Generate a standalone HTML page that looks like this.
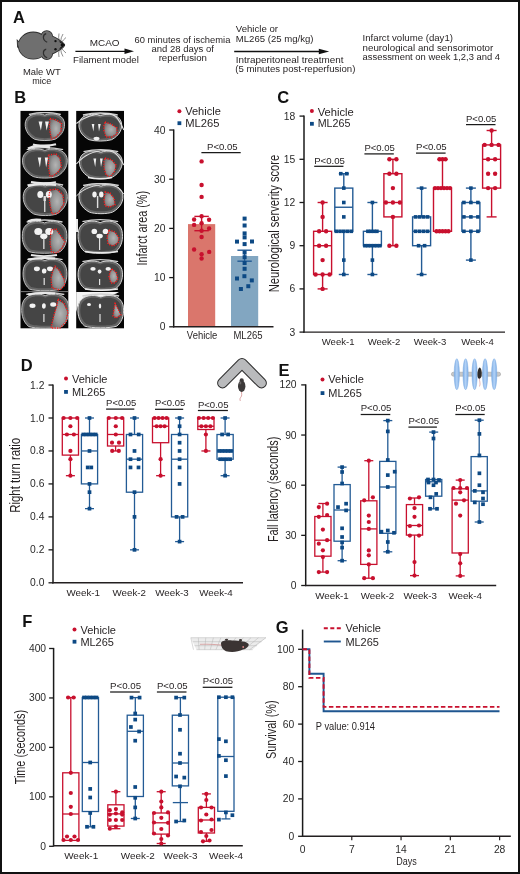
<!DOCTYPE html><html><head><meta charset="utf-8"><style>html,body{margin:0;padding:0;background:#fff;overflow:hidden;}svg{display:block;will-change:transform;font-family:"Liberation Sans",sans-serif;}</style></head><body>
<svg width="520" height="874" viewBox="0 0 520 874">
<rect x="0" y="0" width="520" height="874" fill="#fff"/>
<text x="13" y="22.5" font-size="16.5" text-anchor="start" fill="#111" font-weight="bold">A</text>
<g fill="#2b2b2b" stroke="#2b2b2b" stroke-width="1.6"><path d="M19.5,43 L17.6,41 L17.9,47.5 Z"/><ellipse cx="33.2" cy="45.6" rx="14.6" ry="13.2"/><path d="M44,37 C48,34.5 53,36 58,39.5 C61,41.5 64.3,43.5 64.3,45 C64.3,46.5 61,48.8 58,50.6 C53,54 48,55.6 44,53.5 Z"/><circle cx="46.8" cy="36.4" r="5.4"/><circle cx="46.8" cy="53.8" r="5.4"/></g>
<g fill="#6f6f6f"><path d="M19.5,43 L17.6,41 L17.9,47.5 Z"/><ellipse cx="33.2" cy="45.6" rx="14.6" ry="13.2"/><path d="M44,37 C48,34.5 53,36 58,39.5 C61,41.5 64.3,43.5 64.3,45 C64.3,46.5 61,48.8 58,50.6 C53,54 48,55.6 44,53.5 Z"/><circle cx="46.8" cy="36.4" r="5.4"/><circle cx="46.8" cy="53.8" r="5.4"/></g>
<path d="M46.2,33.6 C42.4,34.6 42.2,40.2 47.2,42.2" stroke="#2e2e2e" stroke-width="1.2" fill="none"/>
<path d="M46.2,49.2 C42.4,50.2 42.2,55.8 47.2,57.8" stroke="#2e2e2e" stroke-width="1.2" fill="none"/>
<circle cx="55.5" cy="41.1" r="1.2" fill="#111"/><circle cx="55.5" cy="49.2" r="1.2" fill="#111"/>
<path d="M59.8,41.6 L64.3,45 L59.8,48.6" stroke="#111" stroke-width="1.1" fill="none"/>
<circle cx="61.9" cy="45.1" r="1.3" fill="#111"/>
<g stroke="#333" stroke-width="0.55" fill="none"><path d="M59.5,42 Q58,37 59,33.5"/><path d="M60.5,42.3 Q61,37 63,34"/><path d="M61,43 Q63.5,39.5 66,37.5"/><path d="M59.5,48.6 Q58,53.5 59,57"/><path d="M60.5,48.3 Q61,53.5 63,56.5"/><path d="M61,47.6 Q63.5,51 66,53"/></g>
<text x="41.8" y="75" font-size="9.4" text-anchor="middle" fill="#231f20" textLength="37.7" lengthAdjust="spacingAndGlyphs">Male WT</text>
<text x="41.8" y="84" font-size="9.4" text-anchor="middle" fill="#231f20" textLength="19" lengthAdjust="spacingAndGlyphs">mice</text>
<line x1="75.4" y1="51.3" x2="128" y2="51.3" stroke="#111" stroke-width="1.3"/>
<path d="M124.5,48.6 L134,51.3 L124.5,54 Z" fill="#111"/>
<text x="89.8" y="46" font-size="9.6" text-anchor="start" fill="#231f20" textLength="29.8" lengthAdjust="spacingAndGlyphs">MCAO</text>
<text x="73" y="63.3" font-size="9.6" text-anchor="start" fill="#231f20" textLength="65.8" lengthAdjust="spacingAndGlyphs">Filament model</text>
<text x="182.5" y="42.7" font-size="9.6" text-anchor="middle" fill="#231f20" textLength="95.8" lengthAdjust="spacingAndGlyphs">60 minutes of ischemia</text>
<text x="182.7" y="52.3" font-size="9.6" text-anchor="middle" fill="#231f20" textLength="62.5" lengthAdjust="spacingAndGlyphs">and 28 days of</text>
<text x="182.8" y="61.3" font-size="9.6" text-anchor="middle" fill="#231f20" textLength="48.3" lengthAdjust="spacingAndGlyphs">reperfusion</text>
<text x="235.8" y="31.9" font-size="9.6" text-anchor="start" fill="#231f20" textLength="42.2" lengthAdjust="spacingAndGlyphs">Vehicle or</text>
<text x="235.8" y="42.3" font-size="9.6" text-anchor="start" fill="#231f20" textLength="77.7" lengthAdjust="spacingAndGlyphs">ML265 (25 mg/kg)</text>
<line x1="234.2" y1="51.5" x2="322" y2="51.5" stroke="#111" stroke-width="1.3"/>
<path d="M318.8,48.7 L329.2,51.5 L318.8,54.3 Z" fill="#111"/>
<text x="235.8" y="62.6" font-size="9.6" text-anchor="start" fill="#231f20" textLength="107.7" lengthAdjust="spacingAndGlyphs">Intraperitoneal treatment</text>
<text x="235.3" y="72.3" font-size="9.6" text-anchor="start" fill="#231f20" textLength="120.1" lengthAdjust="spacingAndGlyphs">(5 minutes post-reperfusion)</text>
<text x="362.6" y="40.8" font-size="9.6" text-anchor="start" fill="#231f20" textLength="90.4" lengthAdjust="spacingAndGlyphs">Infarct volume (day1)</text>
<text x="362.6" y="50.5" font-size="9.6" text-anchor="start" fill="#231f20" textLength="130.7" lengthAdjust="spacingAndGlyphs">neurological and sensorimotor</text>
<text x="362.6" y="59.8" font-size="9.6" text-anchor="start" fill="#231f20" textLength="137.4" lengthAdjust="spacingAndGlyphs">assessment on week 1,2,3 and 4</text>
<text x="14.3" y="103.1" font-size="16.5" text-anchor="start" fill="#111" font-weight="bold">B</text>
<defs><filter id="bl" x="-20%" y="-20%" width="140%" height="140%"><feGaussianBlur stdDeviation="0.7"/></filter><filter id="bl2" x="-30%" y="-30%" width="160%" height="160%"><feGaussianBlur stdDeviation="1.6"/></filter><radialGradient id="brg" cx="0.5" cy="0.5" r="0.55"><stop offset="0" stop-color="#4a4a4a"/><stop offset="0.75" stop-color="#555"/><stop offset="1" stop-color="#7a7a7a"/></radialGradient><radialGradient id="ig" cx="0.55" cy="0.5" r="0.6"><stop offset="0" stop-color="#b4b4b4"/><stop offset="0.6" stop-color="#959595"/><stop offset="1" stop-color="#707070"/></radialGradient><linearGradient id="dg" x1="0" x2="1" y1="0" y2="0"><stop offset="0" stop-color="#7eaee6"/><stop offset="0.5" stop-color="#b3d2f6"/><stop offset="1" stop-color="#7eaee6"/></linearGradient></defs>
<rect x="20.5" y="110.9" width="47.8" height="217.4" fill="#060606"/>
<rect x="76.2" y="110.9" width="47.8" height="217.4" fill="#060606"/>
<path d="M76.2,291.9 H119 C112,296 105,297.5 99,297.5 C90,297.5 82,299 78.5,304 L76.2,312 Z" fill="#f4f4f4"/>
<line x1="20.5" y1="291.6" x2="68.3" y2="291.6" stroke="#9a9a9a" stroke-width="0.8"/>
<path d="M28.9,114.5 Q44.8,110.5 60.8,114.5" stroke="#cfcfcf" stroke-width="1.3" fill="none" filter="url(#bl)"/>
<path d="M44.8,115.1 C50.8,112.7 62.0,113.2 64.2,121.6 C65.6,128.3 62.4,135.1 55.2,139.2 C50.0,141.0 39.7,141.0 34.5,139.2 C27.3,135.1 24.1,128.3 25.5,121.6 C27.7,113.2 38.9,112.7 44.8,115.1 Z" fill="#646464" stroke="#bdbdbd" stroke-width="1.0"/>
<path d="M44.8,117.2 C50.1,115.2 59.9,115.7 61.9,122.6 C63.1,128.1 60.3,133.7 54.0,137.0 C49.4,138.5 40.3,138.5 35.7,137.0 C29.4,133.7 26.6,128.1 27.8,122.6 C29.8,115.7 39.6,115.2 44.8,117.2 Z" fill="#444444" filter="url(#bl)"/>
<polygon points="50,118.5 56,120 61.5,123 61,132 56,137 51.5,139 50,132 49.5,125" fill="url(#ig)" filter="url(#bl)" transform="translate(3.27,7.70) scale(0.94)"/>
<path d="M38.6,121.5 L42.4,121.5 L40.9,130.5 Z M45.1,121.5 L48.9,121.5 L46.6,130.5 Z" fill="#f2f2f2" filter="url(#bl)"/>
<polygon points="50,118.5 56,120 61.5,123 61,132 56,137 51.5,139 50,132 49.5,125" fill="none" stroke="#ff1c1c" stroke-width="1.35" stroke-dasharray="1.2 1.3" stroke-linejoin="round"/>
<path d="M26.7,149.6 Q44.9,145.6 63.1,149.6" stroke="#cfcfcf" stroke-width="1.3" fill="none" filter="url(#bl)"/>
<path d="M44.9,150.4 C51.7,147.7 64.4,148.3 66.9,157.4 C68.5,164.8 64.9,172.1 56.7,176.5 C50.8,178.6 39.0,178.6 33.1,176.5 C24.9,172.1 21.3,164.8 22.9,157.4 C25.4,148.3 38.1,147.7 44.9,150.4 Z" fill="#646464" stroke="#bdbdbd" stroke-width="1.0"/>
<path d="M44.9,152.5 C51.0,150.3 62.4,150.8 64.6,158.4 C66.0,164.5 62.8,170.7 55.5,174.4 C50.2,176.1 39.6,176.1 34.3,174.4 C27.0,170.7 23.8,164.5 25.2,158.4 C27.4,150.8 38.8,150.3 44.9,152.5 Z" fill="#444444" filter="url(#bl)"/>
<polygon points="48.5,155 56,154 60,158 61.5,167 58,172 53,176 50,176 48.5,168" fill="url(#ig)" filter="url(#bl)" transform="translate(3.27,9.95) scale(0.94)"/>
<path d="M37.8,157.5 L41.2,157.5 L39.9,167.5 Z M44.8,157.5 L48.2,157.5 L46.1,167.5 Z" fill="#f2f2f2" filter="url(#bl)"/>
<polygon points="48.5,155 56,154 60,158 61.5,167 58,172 53,176 50,176 48.5,168" fill="none" stroke="#ff1c1c" stroke-width="1.35" stroke-dasharray="1.2 1.3" stroke-linejoin="round"/>
<path d="M27.4,185.0 Q45.2,181.0 63.1,185.0" stroke="#cfcfcf" stroke-width="1.3" fill="none" filter="url(#bl)"/>
<path d="M45.2,185.9 C52.0,183.1 64.5,183.7 66.9,193.4 C68.5,201.3 64.9,209.2 56.9,213.9 C51.1,216.1 39.4,216.1 33.6,213.9 C25.6,209.2 22.0,201.3 23.6,193.4 C26.0,183.7 38.5,183.1 45.2,185.9 Z" fill="#646464" stroke="#bdbdbd" stroke-width="1.0"/>
<path d="M45.2,188.0 C51.2,185.6 62.4,186.1 64.6,194.4 C66.0,201.1 62.8,207.8 55.6,211.8 C50.4,213.6 40.1,213.6 34.9,211.8 C27.7,207.8 24.5,201.1 25.9,194.4 C28.1,186.1 39.3,185.6 45.2,188.0 Z" fill="#444444" filter="url(#bl)"/>
<polygon points="50,190 57,189 63,195 64,204 58,213 52,214 50,205 49,196" fill="url(#ig)" filter="url(#bl)" transform="translate(3.32,12.04) scale(0.94)"/>
<ellipse cx="40.3" cy="194.5" rx="3.0" ry="3.6" fill="#f2f2f2" filter="url(#bl)"/><ellipse cx="48.8" cy="194.5" rx="3.0" ry="3.6" fill="#f2f2f2" filter="url(#bl)"/><rect x="43.5" y="196" width="2.4" height="5" fill="#e0e0e0" filter="url(#bl)"/><rect x="44.1" y="200" width="1.3" height="12" fill="#e0e0e0" filter="url(#bl)"/>
<polygon points="50,190 57,189 63,195 64,204 58,213 52,214 50,205 49,196" fill="none" stroke="#ff1c1c" stroke-width="1.35" stroke-dasharray="1.2 1.3" stroke-linejoin="round"/>
<path d="M26.7,222.0 Q44.6,218.0 62.5,222.0" stroke="#cfcfcf" stroke-width="1.3" fill="none" filter="url(#bl)"/>
<path d="M44.6,222.9 C51.3,220.0 63.9,220.7 66.3,230.7 C67.9,238.7 66.3,246.8 60.3,251.6 C54.5,253.8 34.7,253.8 28.9,251.6 C22.9,246.8 21.3,238.7 22.9,230.7 C25.3,220.7 37.9,220.0 44.6,222.9 Z" fill="#646464" stroke="#bdbdbd" stroke-width="1.0"/>
<path d="M44.6,225.0 C50.6,222.6 61.8,223.1 64.0,231.6 C65.4,238.5 64.0,245.3 58.6,249.4 C53.4,251.3 35.8,251.3 30.6,249.4 C25.2,245.3 23.8,238.5 25.2,231.6 C27.4,223.1 38.6,222.6 44.6,225.0 Z" fill="#444444" filter="url(#bl)"/>
<polygon points="51,230 56,229 61,236 65,242 62,248 57,253 51.5,252 50,243" fill="url(#ig)" filter="url(#bl)" transform="translate(3.40,14.50) scale(0.94)"/>
<ellipse cx="38.3" cy="231.5" rx="4.0" ry="3.6" fill="#f2f2f2" filter="url(#bl)"/><ellipse cx="49.2" cy="231.5" rx="4.0" ry="3.6" fill="#f2f2f2" filter="url(#bl)"/><ellipse cx="43.8" cy="236.2" rx="3.6" ry="2.8" fill="#f2f2f2" filter="url(#bl)"/><rect x="43.2" y="238" width="1.3" height="11" fill="#e0e0e0" filter="url(#bl)"/>
<polygon points="51,230 56,229 61,236 65,242 62,248 57,253 51.5,252 50,243" fill="none" stroke="#ff1c1c" stroke-width="1.35" stroke-dasharray="1.2 1.3" stroke-linejoin="round"/>
<path d="M27.3,259.6 Q45.0,255.6 62.6,259.6" stroke="#cfcfcf" stroke-width="1.3" fill="none" filter="url(#bl)"/>
<path d="M45.0,260.5 C51.6,257.6 63.9,258.3 66.3,268.2 C67.9,276.3 66.3,284.3 60.4,289.1 C54.7,291.3 35.2,291.3 29.5,289.1 C23.6,284.3 22.0,276.3 23.6,268.2 C26.0,258.3 38.3,257.6 45.0,260.5 Z" fill="#646464" stroke="#bdbdbd" stroke-width="1.0"/>
<path d="M44.9,262.6 C50.8,260.2 61.8,260.7 64.0,269.2 C65.4,276.0 64.0,282.8 58.7,286.9 C53.6,288.8 36.3,288.8 31.2,286.9 C25.9,282.8 24.5,276.0 25.9,269.2 C28.1,260.7 39.1,260.2 44.9,262.6 Z" fill="#444444" filter="url(#bl)"/>
<polygon points="55,266 59,270 64,279 65,285 60,290 52,288 51,278 53,270" fill="url(#ig)" filter="url(#bl)" transform="translate(3.44,16.70) scale(0.94)"/>
<ellipse cx="36.9" cy="268.8" rx="3.0" ry="2.4" fill="#f2f2f2" filter="url(#bl)"/><ellipse cx="50.0" cy="268.8" rx="3.0" ry="2.4" fill="#f2f2f2" filter="url(#bl)"/><ellipse cx="44.2" cy="271.0" rx="2.3" ry="2.6" fill="#f2f2f2" filter="url(#bl)"/><rect x="43.6" y="278" width="1.2" height="7" fill="#e0e0e0" filter="url(#bl)"/>
<polygon points="55,266 59,270 64,279 65,285 60,290 52,288 51,278 53,270" fill="none" stroke="#ff1c1c" stroke-width="1.35" stroke-dasharray="1.2 1.3" stroke-linejoin="round"/>
<path d="M26.3,294.5 Q45.3,290.5 64.3,294.5" stroke="#cfcfcf" stroke-width="1.3" fill="none" filter="url(#bl)"/>
<path d="M45.3,295.6 C52.4,292.5 65.7,293.2 68.3,303.9 C69.9,312.6 68.3,321.3 61.9,326.5 C55.7,328.9 34.9,328.9 28.7,326.5 C22.3,321.3 20.7,312.6 22.3,303.9 C24.9,293.2 38.2,292.5 45.3,295.6 Z" fill="#646464" stroke="#bdbdbd" stroke-width="1.0"/>
<path d="M45.3,297.7 C51.7,295.0 63.6,295.6 66.0,304.9 C67.5,312.3 66.0,319.8 60.2,324.3 C54.7,326.4 35.9,326.4 30.4,324.3 C24.6,319.8 23.1,312.3 24.6,304.9 C27.0,295.6 38.9,295.0 45.3,297.7 Z" fill="#444444" filter="url(#bl)"/>
<polygon points="58,299 64,303 68,312 66,322 60,328 51,328 54,315 57,305" fill="url(#ig)" filter="url(#bl)" transform="translate(3.58,18.84) scale(0.94)"/>
<ellipse cx="32.5" cy="305.8" rx="3.0" ry="2.2" fill="#f2f2f2" filter="url(#bl)"/><ellipse cx="53.2" cy="304.5" rx="3.0" ry="2.2" fill="#f2f2f2" filter="url(#bl)"/><ellipse cx="43.9" cy="306.0" rx="1.9" ry="2.8" fill="#f2f2f2" filter="url(#bl)"/><rect x="43.3" y="314" width="1.2" height="8" fill="#e0e0e0" filter="url(#bl)"/>
<polygon points="58,299 64,303 68,312 66,322 60,328 51,328 54,315 57,305" fill="none" stroke="#ff1c1c" stroke-width="1.35" stroke-dasharray="1.2 1.3" stroke-linejoin="round"/>
<path d="M82.9,115.0 Q100.3,111.0 117.7,115.0" stroke="#cfcfcf" stroke-width="1.3" fill="none" filter="url(#bl)"/>
<path d="M100.3,115.6 C106.8,113.2 119.0,113.7 121.3,122.1 C122.9,128.8 119.4,135.6 111.6,139.7 C105.9,141.5 94.7,141.5 89.0,139.7 C81.2,135.6 77.7,128.8 79.3,122.1 C81.6,113.7 93.8,113.2 100.3,115.6 Z" fill="#646464" stroke="#d8d8d8" stroke-width="1.0"/>
<path d="M100.3,117.7 C106.1,115.7 116.9,116.2 119.0,123.1 C120.4,128.6 117.3,134.2 110.3,137.5 C105.3,139.0 95.3,139.0 90.3,137.5 C83.3,134.2 80.2,128.6 81.6,123.1 C83.7,116.2 94.5,115.7 100.3,117.7 Z" fill="#444444" filter="url(#bl)"/>
<polygon points="105,122 111,124 117,128 117,134 112,137 106,137 104,131 104,125" fill="url(#ig)" filter="url(#bl)" transform="translate(6.57,7.79) scale(0.94)"/>
<path d="M91.7,124.0 L94.3,124.0 L93.4,131.5 Z M98.1,124.0 L100.7,124.0 L99.0,131.5 Z" fill="#f2f2f2" filter="url(#bl)"/><ellipse cx="96.5" cy="138.6" rx="3.0" ry="1.8" fill="#f2f2f2" filter="url(#bl)"/>
<polygon points="105,122 111,124 117,128 117,134 112,137 106,137 104,131 104,125" fill="none" stroke="#ff1c1c" stroke-width="1.35" stroke-dasharray="1.2 1.3" stroke-linejoin="round"/>
<path d="M83.5,151.6 Q100.8,147.6 118.2,151.6" stroke="#cfcfcf" stroke-width="1.3" fill="none" filter="url(#bl)"/>
<path d="M100.8,152.3 C107.3,149.8 119.5,150.3 121.9,159.0 C123.4,166.1 119.9,173.1 112.1,177.3 C106.5,179.3 95.2,179.3 89.6,177.3 C81.8,173.1 78.3,166.1 79.8,159.0 C82.2,150.3 94.4,149.8 100.8,152.3 Z" fill="#646464" stroke="#d8d8d8" stroke-width="1.0"/>
<path d="M100.8,154.4 C106.6,152.3 117.4,152.8 119.5,160.0 C120.9,165.8 117.8,171.6 110.9,175.1 C105.9,176.8 95.8,176.8 90.8,175.1 C83.9,171.6 80.8,165.8 82.2,160.0 C84.3,152.8 95.1,152.3 100.8,154.4 Z" fill="#444444" filter="url(#bl)"/>
<polygon points="105,158 112,160 116,165 115,171 110,177 106,175 104,168 104,161" fill="url(#ig)" filter="url(#bl)" transform="translate(6.54,10.01) scale(0.94)"/>
<path d="M93.4,158.5 L96.2,158.5 L95.2,167.0 Z M100.0,158.5 L102.8,158.5 L101.0,167.0 Z" fill="#f2f2f2" filter="url(#bl)"/>
<polygon points="105,158 112,160 116,165 115,171 110,177 106,175 104,168 104,161" fill="none" stroke="#ff1c1c" stroke-width="1.35" stroke-dasharray="1.2 1.3" stroke-linejoin="round"/>
<path d="M83.1,185.5 Q100.9,181.5 118.8,185.5" stroke="#cfcfcf" stroke-width="1.3" fill="none" filter="url(#bl)"/>
<path d="M100.9,186.2 C107.7,183.6 120.2,184.2 122.6,193.2 C124.2,200.5 120.6,207.8 112.6,212.1 C106.8,214.2 95.1,214.2 89.3,212.1 C81.3,207.8 77.7,200.5 79.3,193.2 C81.7,184.2 94.2,183.6 100.9,186.2 Z" fill="#646464" stroke="#d8d8d8" stroke-width="1.0"/>
<path d="M100.9,188.4 C106.9,186.2 118.1,186.7 120.3,194.2 C121.7,200.3 118.5,206.3 111.3,210.0 C106.1,211.7 95.8,211.7 90.6,210.0 C83.4,206.3 80.2,200.3 81.6,194.2 C83.8,186.7 95.0,186.2 100.9,188.4 Z" fill="#444444" filter="url(#bl)"/>
<polygon points="105,192 110,193 114,198 115,205 110,207 105,206 104,200" fill="url(#ig)" filter="url(#bl)" transform="translate(6.54,12.01) scale(0.94)"/>
<ellipse cx="94.5" cy="194.5" rx="2.2" ry="3.0" fill="#f2f2f2" filter="url(#bl)"/><ellipse cx="101.3" cy="194.5" rx="2.2" ry="3.0" fill="#f2f2f2" filter="url(#bl)"/><rect x="96.9" y="196" width="1.4" height="12" fill="#e0e0e0" filter="url(#bl)"/>
<polygon points="105,192 110,193 114,198 115,205 110,207 105,206 104,200" fill="none" stroke="#ff1c1c" stroke-width="1.35" stroke-dasharray="1.2 1.3" stroke-linejoin="round"/>
<path d="M82.4,221.6 Q100.2,217.6 118.1,221.6" stroke="#cfcfcf" stroke-width="1.3" fill="none" filter="url(#bl)"/>
<path d="M100.2,222.6 C107.0,219.6 119.5,220.3 121.9,230.4 C123.5,238.5 121.9,246.7 115.9,251.6 C110.1,253.9 90.4,253.9 84.6,251.6 C78.6,246.7 77.0,238.5 78.6,230.4 C81.0,220.3 93.5,219.6 100.2,222.6 Z" fill="#646464" stroke="#d8d8d8" stroke-width="1.0"/>
<path d="M100.2,224.7 C106.2,222.2 117.4,222.7 119.6,231.3 C121.0,238.3 119.6,245.2 114.2,249.4 C109.0,251.4 91.5,251.4 86.3,249.4 C80.9,245.2 79.5,238.3 80.9,231.3 C83.1,222.7 94.3,222.2 100.2,224.7 Z" fill="#444444" filter="url(#bl)"/>
<polygon points="109,230 115,232 119,238 118,243 113,246 108,244 107,237" fill="url(#ig)" filter="url(#bl)" transform="translate(6.76,14.31) scale(0.94)"/>
<ellipse cx="94.3" cy="231.4" rx="2.8" ry="2.7" fill="#f2f2f2" filter="url(#bl)"/><ellipse cx="105.5" cy="231.4" rx="2.8" ry="2.7" fill="#f2f2f2" filter="url(#bl)"/><ellipse cx="99.6" cy="236" rx="3.2" ry="2.3" fill="#f2f2f2" filter="url(#bl)"/><rect x="99" y="238" width="1.2" height="12" fill="#e0e0e0" filter="url(#bl)"/>
<polygon points="109,230 115,232 119,238 118,243 113,246 108,244 107,237" fill="none" stroke="#ff1c1c" stroke-width="1.35" stroke-dasharray="1.2 1.3" stroke-linejoin="round"/>
<path d="M82.4,261.6 Q100.2,257.6 118.1,261.6" stroke="#cfcfcf" stroke-width="1.3" fill="none" filter="url(#bl)"/>
<path d="M100.2,262.4 C107.0,259.7 119.5,260.3 121.9,269.4 C123.5,276.8 121.9,284.1 115.9,288.5 C110.1,290.6 90.4,290.6 84.6,288.5 C78.6,284.1 77.0,276.8 78.6,269.4 C81.0,260.3 93.5,259.7 100.2,262.4 Z" fill="#646464" stroke="#d8d8d8" stroke-width="1.0"/>
<path d="M100.2,264.5 C106.2,262.3 117.4,262.8 119.6,270.4 C121.0,276.5 119.6,282.7 114.2,286.4 C109.0,288.1 91.5,288.1 86.3,286.4 C80.9,282.7 79.5,276.5 80.9,270.4 C83.1,262.8 94.3,262.3 100.2,264.5 Z" fill="#444444" filter="url(#bl)"/>
<polygon points="112,269 116,272 118,279 115,283 111,283 109,277 110,272" fill="url(#ig)" filter="url(#bl)" transform="translate(6.78,16.59) scale(0.94)"/>
<ellipse cx="93" cy="268.9" rx="2.7" ry="1.8" fill="#f2f2f2" filter="url(#bl)"/><ellipse cx="108.2" cy="268.9" rx="2.7" ry="1.8" fill="#f2f2f2" filter="url(#bl)"/><ellipse cx="99.6" cy="271.6" rx="1.9" ry="2.1" fill="#f2f2f2" filter="url(#bl)"/><rect x="99" y="279" width="1.2" height="6" fill="#e0e0e0" filter="url(#bl)"/>
<polygon points="112,269 116,272 118,279 115,283 111,283 109,277 110,272" fill="none" stroke="#ff1c1c" stroke-width="1.35" stroke-dasharray="1.2 1.3" stroke-linejoin="round"/>
<path d="M82.4,296.0 Q100.8,292.0 119.1,296.0" stroke="#cfcfcf" stroke-width="1.3" fill="none" filter="url(#bl)"/>
<path d="M100.8,297.0 C107.6,294.0 120.5,294.7 123.0,304.8 C124.6,313.0 123.0,321.2 116.8,326.1 C110.8,328.4 90.7,328.4 84.7,326.1 C78.5,321.2 76.9,313.0 78.5,304.8 C81.0,294.7 93.9,294.0 100.8,297.0 Z" fill="#646464" stroke="#d8d8d8" stroke-width="1.0"/>
<path d="M100.8,299.1 C106.9,296.6 118.4,297.1 120.7,305.8 C122.1,312.7 120.7,319.7 115.1,323.9 C109.8,325.9 91.7,325.9 86.4,323.9 C80.8,319.7 79.4,312.7 80.8,305.8 C83.1,297.1 94.6,296.6 100.8,299.1 Z" fill="#444444" filter="url(#bl)"/>
<polygon points="115,303 118,309 121,315 116,318 113,316 114,310" fill="url(#ig)" filter="url(#bl)" transform="translate(6.97,18.71) scale(0.94)"/>
<ellipse cx="89" cy="304.5" rx="2" ry="1.6" fill="#f2f2f2" filter="url(#bl)"/><ellipse cx="100" cy="306" rx="1.2" ry="2.5" fill="#f2f2f2" filter="url(#bl)"/><rect x="99.4" y="314" width="1.2" height="8" fill="#e0e0e0" filter="url(#bl)"/>
<polygon points="115,303 118,309 121,315 116,318 113,316 114,310" fill="none" stroke="#ff1c1c" stroke-width="1.35" stroke-dasharray="1.2 1.3" stroke-linejoin="round"/>
<g filter="url(#bl)" fill="none" stroke="#e8e8e8">
<path d="M33,144.5 C38,146 50,146 56,144.3" stroke-width="2.2"/>
<path d="M28,148.5 C33,146 42,145.8 50,147.5" stroke-width="2.4"/>
<path d="M31,182 C38,183.5 50,183.5 56,182" stroke-width="1.8"/>
<path d="M28,186 C35,183.8 45,183.6 56,185" stroke-width="2.2"/>
<path d="M28,221.5 C31,219.8 36,219.3 41,220" stroke-width="2.4"/>
<path d="M31,255 C38,256.5 50,256.5 57,255" stroke-width="1.8"/>
<path d="M28,259.5 C35,257.8 45,257.5 55,258.5" stroke-width="2.0"/>
<path d="M28,294.5 C35,292.8 45,292.5 55,293.5" stroke-width="2.0"/>
<path d="M88,177.5 C95,179 105,179 112,177.5" stroke-width="1.6"/>
<path d="M85,251.5 C95,253 108,253 118,251.5" stroke-width="1.6"/>
<path d="M77,219 L77,232" stroke-width="2.0"/>
<path d="M85,289 C95,290.5 108,290.5 118,289" stroke-width="1.4"/>
</g>
<path d="M76.4,123.5 C84,117 95,113.5 107,113.5 C115,113.5 119,119 123.8,130" stroke="#e0e0e0" stroke-width="1.1" fill="none"/>
<path d="M76.4,164 C84,155 95,150.5 106,150.5 C115,150.5 119,156 123.8,165" stroke="#e0e0e0" stroke-width="1.1" fill="none"/>
<path d="M76.4,196 C84,188 95,184.5 106,184.5 C115,184.5 119,188 123.8,194" stroke="#d8d8d8" stroke-width="1.0" fill="none"/>
<rect x="188" y="224.1" width="27.2" height="102.7" fill="#da766c"/>
<rect x="231" y="256" width="27.2" height="70.8" fill="#82a6c1"/>
<line x1="173.7" y1="129.4" x2="173.7" y2="327.40000000000003" stroke="#1a1a1a" stroke-width="1.5"/>
<line x1="169.2" y1="130" x2="173.7" y2="130" stroke="#1a1a1a" stroke-width="1.3"/>
<text x="165.5" y="133.5" font-size="10.3" text-anchor="end" fill="#2a2a2a">40</text>
<line x1="169.2" y1="179.2" x2="173.7" y2="179.2" stroke="#1a1a1a" stroke-width="1.3"/>
<text x="165.5" y="182.7" font-size="10.3" text-anchor="end" fill="#2a2a2a">30</text>
<line x1="169.2" y1="228.4" x2="173.7" y2="228.4" stroke="#1a1a1a" stroke-width="1.3"/>
<text x="165.5" y="231.9" font-size="10.3" text-anchor="end" fill="#2a2a2a">20</text>
<line x1="169.2" y1="277.6" x2="173.7" y2="277.6" stroke="#1a1a1a" stroke-width="1.3"/>
<text x="165.5" y="281.1" font-size="10.3" text-anchor="end" fill="#2a2a2a">10</text>
<line x1="169.2" y1="326.8" x2="173.7" y2="326.8" stroke="#1a1a1a" stroke-width="1.3"/>
<text x="165.5" y="330.3" font-size="10.3" text-anchor="end" fill="#2a2a2a">0</text>
<line x1="173.0" y1="326.8" x2="273.5" y2="326.8" stroke="#231f20" stroke-width="1.4"/>
<line x1="201.6" y1="216.4" x2="201.6" y2="230.7" stroke="#c8102e" stroke-width="1.4"/>
<line x1="194.4" y1="216.4" x2="208.79999999999998" y2="216.4" stroke="#c8102e" stroke-width="1.4"/>
<line x1="194.4" y1="230.7" x2="208.79999999999998" y2="230.7" stroke="#c8102e" stroke-width="1.4"/>
<line x1="244.6" y1="250.2" x2="244.6" y2="261.2" stroke="#235b95" stroke-width="1.4"/>
<line x1="237.4" y1="250.2" x2="251.79999999999998" y2="250.2" stroke="#235b95" stroke-width="1.4"/>
<line x1="237.4" y1="261.2" x2="251.79999999999998" y2="261.2" stroke="#235b95" stroke-width="1.4"/>
<circle cx="201.60" cy="161.40" r="2.2" fill="#c8102e"/>
<circle cx="201.60" cy="185.00" r="2.2" fill="#c8102e"/>
<circle cx="201.60" cy="196.90" r="2.2" fill="#c8102e"/>
<circle cx="201.60" cy="216.20" r="2.2" fill="#c8102e"/>
<circle cx="194.10" cy="219.50" r="2.2" fill="#c8102e"/>
<circle cx="209.10" cy="219.80" r="2.2" fill="#c8102e"/>
<circle cx="194.10" cy="224.90" r="2.2" fill="#c8102e"/>
<circle cx="201.60" cy="223.20" r="2.2" fill="#c8102e"/>
<circle cx="209.10" cy="228.50" r="2.2" fill="#c8102e"/>
<circle cx="201.60" cy="230.70" r="2.2" fill="#c8102e"/>
<circle cx="201.60" cy="237.00" r="2.2" fill="#c8102e"/>
<circle cx="194.10" cy="249.50" r="2.2" fill="#c8102e"/>
<circle cx="209.20" cy="251.90" r="2.2" fill="#c8102e"/>
<circle cx="201.60" cy="254.20" r="2.2" fill="#c8102e"/>
<circle cx="201.60" cy="258.50" r="2.2" fill="#c8102e"/>
<rect x="242.60" y="216.60" width="4.0" height="4.0" fill="#0d4984"/>
<rect x="242.60" y="223.50" width="4.0" height="4.0" fill="#0d4984"/>
<rect x="242.60" y="231.40" width="4.0" height="4.0" fill="#0d4984"/>
<rect x="242.60" y="235.40" width="4.0" height="4.0" fill="#0d4984"/>
<rect x="235.00" y="239.60" width="4.0" height="4.0" fill="#0d4984"/>
<rect x="250.00" y="239.50" width="4.0" height="4.0" fill="#0d4984"/>
<rect x="242.60" y="242.10" width="4.0" height="4.0" fill="#0d4984"/>
<rect x="242.60" y="250.50" width="4.0" height="4.0" fill="#0d4984"/>
<rect x="242.60" y="255.20" width="4.0" height="4.0" fill="#0d4984"/>
<rect x="242.60" y="261.00" width="4.0" height="4.0" fill="#0d4984"/>
<rect x="242.60" y="266.80" width="4.0" height="4.0" fill="#0d4984"/>
<rect x="242.40" y="274.20" width="4.0" height="4.0" fill="#0d4984"/>
<rect x="235.00" y="276.50" width="4.0" height="4.0" fill="#0d4984"/>
<rect x="249.80" y="278.40" width="4.0" height="4.0" fill="#0d4984"/>
<rect x="246.30" y="284.20" width="4.0" height="4.0" fill="#0d4984"/>
<rect x="238.90" y="287.00" width="4.0" height="4.0" fill="#0d4984"/>
<text x="207.0" y="149.5" font-size="9.7" text-anchor="start" fill="#231f20" textLength="30.6" lengthAdjust="spacingAndGlyphs">P&lt;0.05</text>
<line x1="201.4" y1="152.5" x2="240.7" y2="152.5" stroke="#1a1a1a" stroke-width="1.25"/>
<circle cx="179.40" cy="111.30" r="2.0" fill="#c8102e"/>
<rect x="177.50" y="121.30" width="3.8" height="3.8" fill="#0d4984"/>
<text x="185.2" y="115.2" font-size="11.5" text-anchor="start" fill="#231f20" textLength="35.6" lengthAdjust="spacingAndGlyphs">Vehicle</text>
<text x="185.2" y="126.5" font-size="11.5" text-anchor="start" fill="#231f20" textLength="34.2" lengthAdjust="spacingAndGlyphs">ML265</text>
<text x="202.1" y="338.5" font-size="10" text-anchor="middle" fill="#231f20" textLength="30.5" lengthAdjust="spacingAndGlyphs">Vehicle</text>
<text x="248.0" y="338.5" font-size="10" text-anchor="middle" fill="#231f20" textLength="29.1" lengthAdjust="spacingAndGlyphs">ML265</text>
<text transform="translate(146.8,228.2) rotate(-90)" x="0" y="0" font-size="14.2" text-anchor="middle" fill="#231f20" textLength="74.5" lengthAdjust="spacingAndGlyphs">Infarct area (%)</text>
<text x="277.2" y="102.5" font-size="16.5" text-anchor="start" fill="#111" font-weight="bold">C</text>
<line x1="304.0" y1="115.50000000000003" x2="304.0" y2="332.70000000000005" stroke="#1a1a1a" stroke-width="1.5"/>
<line x1="299.5" y1="116.10000000000002" x2="304.0" y2="116.10000000000002" stroke="#1a1a1a" stroke-width="1.3"/>
<text x="295.3" y="119.60000000000002" font-size="10.3" text-anchor="end" fill="#2a2a2a">18</text>
<line x1="299.5" y1="159.3" x2="304.0" y2="159.3" stroke="#1a1a1a" stroke-width="1.3"/>
<text x="295.3" y="162.8" font-size="10.3" text-anchor="end" fill="#2a2a2a">15</text>
<line x1="299.5" y1="202.50000000000003" x2="304.0" y2="202.50000000000003" stroke="#1a1a1a" stroke-width="1.3"/>
<text x="295.3" y="206.00000000000003" font-size="10.3" text-anchor="end" fill="#2a2a2a">12</text>
<line x1="299.5" y1="245.70000000000002" x2="304.0" y2="245.70000000000002" stroke="#1a1a1a" stroke-width="1.3"/>
<text x="295.3" y="249.20000000000002" font-size="10.3" text-anchor="end" fill="#2a2a2a">9</text>
<line x1="299.5" y1="288.90000000000003" x2="304.0" y2="288.90000000000003" stroke="#1a1a1a" stroke-width="1.3"/>
<text x="295.3" y="292.40000000000003" font-size="10.3" text-anchor="end" fill="#2a2a2a">6</text>
<line x1="299.5" y1="332.1" x2="304.0" y2="332.1" stroke="#1a1a1a" stroke-width="1.3"/>
<text x="295.3" y="335.6" font-size="10.3" text-anchor="end" fill="#2a2a2a">3</text>
<line x1="303.3" y1="332.1" x2="505" y2="332.1" stroke="#231f20" stroke-width="1.4"/>
<text x="338.1" y="344.9" font-size="9.8" text-anchor="middle" fill="#231f20" textLength="32.7" lengthAdjust="spacingAndGlyphs">Week-1</text>
<text x="384.0" y="344.9" font-size="9.8" text-anchor="middle" fill="#231f20" textLength="32.7" lengthAdjust="spacingAndGlyphs">Week-2</text>
<text x="430.0" y="344.9" font-size="9.8" text-anchor="middle" fill="#231f20" textLength="32.7" lengthAdjust="spacingAndGlyphs">Week-3</text>
<text x="477.5" y="344.9" font-size="9.8" text-anchor="middle" fill="#231f20" textLength="32.7" lengthAdjust="spacingAndGlyphs">Week-4</text>
<text transform="translate(279.0,223.6) rotate(-90)" x="0" y="0" font-size="14" text-anchor="middle" fill="#231f20" textLength="137.4" lengthAdjust="spacingAndGlyphs">Neurological serverity score</text>
<circle cx="311.90" cy="111.00" r="2.0" fill="#c8102e"/>
<rect x="310.00" y="121.90" width="3.8" height="3.8" fill="#0d4984"/>
<text x="317.7" y="116.2" font-size="11.8" text-anchor="start" fill="#231f20" textLength="36.1" lengthAdjust="spacingAndGlyphs">Vehicle</text>
<text x="317.7" y="126.9" font-size="11.8" text-anchor="start" fill="#231f20" textLength="32.7" lengthAdjust="spacingAndGlyphs">ML265</text>
<line x1="322.6" y1="202.50000000000003" x2="322.6" y2="231.3" stroke="#c8102e" stroke-width="1.4"/>
<line x1="317.6" y1="202.50000000000003" x2="327.6" y2="202.50000000000003" stroke="#c8102e" stroke-width="1.4"/>
<line x1="322.6" y1="274.5" x2="322.6" y2="288.90000000000003" stroke="#c8102e" stroke-width="1.4"/>
<line x1="317.6" y1="288.90000000000003" x2="327.6" y2="288.90000000000003" stroke="#c8102e" stroke-width="1.4"/>
<rect x="313.6" y="231.3" width="18.0" height="43.2" fill="none" stroke="#c8102e" stroke-width="1.4"/>
<line x1="313.6" y1="245.70000000000002" x2="331.6" y2="245.70000000000002" stroke="#c8102e" stroke-width="1.4"/>
<circle cx="322.60" cy="202.50" r="2.2" fill="#c8102e"/>
<circle cx="322.60" cy="216.90" r="2.2" fill="#c8102e"/>
<circle cx="319.10" cy="231.30" r="2.2" fill="#c8102e"/>
<circle cx="326.10" cy="231.30" r="2.2" fill="#c8102e"/>
<circle cx="319.10" cy="245.70" r="2.2" fill="#c8102e"/>
<circle cx="326.10" cy="245.70" r="2.2" fill="#c8102e"/>
<circle cx="322.60" cy="260.10" r="2.2" fill="#c8102e"/>
<circle cx="315.60" cy="274.50" r="2.2" fill="#c8102e"/>
<circle cx="322.60" cy="274.50" r="2.2" fill="#c8102e"/>
<circle cx="329.60" cy="274.50" r="2.2" fill="#c8102e"/>
<circle cx="322.60" cy="288.90" r="2.2" fill="#c8102e"/>
<line x1="343.8" y1="173.70000000000002" x2="343.8" y2="188.10000000000002" stroke="#235b95" stroke-width="1.4"/>
<line x1="338.8" y1="173.70000000000002" x2="348.8" y2="173.70000000000002" stroke="#235b95" stroke-width="1.4"/>
<line x1="343.8" y1="231.3" x2="343.8" y2="274.5" stroke="#235b95" stroke-width="1.4"/>
<line x1="338.8" y1="274.5" x2="348.8" y2="274.5" stroke="#235b95" stroke-width="1.4"/>
<rect x="334.8" y="188.1" width="18.0" height="43.2" fill="none" stroke="#235b95" stroke-width="1.4"/>
<line x1="334.8" y1="207.252" x2="352.8" y2="207.252" stroke="#235b95" stroke-width="1.4"/>
<rect x="339.00" y="171.90" width="3.6" height="3.6" fill="#0d4984"/>
<rect x="345.00" y="171.90" width="3.6" height="3.6" fill="#0d4984"/>
<rect x="342.00" y="186.30" width="3.6" height="3.6" fill="#0d4984"/>
<rect x="342.00" y="200.70" width="3.6" height="3.6" fill="#0d4984"/>
<rect x="342.00" y="215.10" width="3.6" height="3.6" fill="#0d4984"/>
<rect x="334.50" y="229.50" width="3.6" height="3.6" fill="#0d4984"/>
<rect x="338.25" y="229.50" width="3.6" height="3.6" fill="#0d4984"/>
<rect x="342.00" y="229.50" width="3.6" height="3.6" fill="#0d4984"/>
<rect x="345.75" y="229.50" width="3.6" height="3.6" fill="#0d4984"/>
<rect x="349.50" y="229.50" width="3.6" height="3.6" fill="#0d4984"/>
<rect x="342.00" y="258.30" width="3.6" height="3.6" fill="#0d4984"/>
<rect x="342.00" y="272.70" width="3.6" height="3.6" fill="#0d4984"/>
<line x1="372.4" y1="202.50000000000003" x2="372.4" y2="231.3" stroke="#235b95" stroke-width="1.4"/>
<line x1="367.4" y1="202.50000000000003" x2="377.4" y2="202.50000000000003" stroke="#235b95" stroke-width="1.4"/>
<line x1="372.4" y1="245.70000000000002" x2="372.4" y2="274.5" stroke="#235b95" stroke-width="1.4"/>
<line x1="367.4" y1="274.5" x2="377.4" y2="274.5" stroke="#235b95" stroke-width="1.4"/>
<rect x="363.4" y="231.3" width="18.0" height="14.4" fill="none" stroke="#235b95" stroke-width="1.4"/>
<line x1="363.4" y1="245.70000000000002" x2="381.4" y2="245.70000000000002" stroke="#235b95" stroke-width="1.4"/>
<rect x="370.60" y="200.70" width="3.6" height="3.6" fill="#0d4984"/>
<rect x="366.10" y="229.50" width="3.6" height="3.6" fill="#0d4984"/>
<rect x="369.10" y="229.50" width="3.6" height="3.6" fill="#0d4984"/>
<rect x="372.10" y="229.50" width="3.6" height="3.6" fill="#0d4984"/>
<rect x="375.10" y="229.50" width="3.6" height="3.6" fill="#0d4984"/>
<rect x="363.10" y="243.90" width="3.6" height="3.6" fill="#0d4984"/>
<rect x="366.10" y="243.90" width="3.6" height="3.6" fill="#0d4984"/>
<rect x="369.10" y="243.90" width="3.6" height="3.6" fill="#0d4984"/>
<rect x="372.10" y="243.90" width="3.6" height="3.6" fill="#0d4984"/>
<rect x="375.10" y="243.90" width="3.6" height="3.6" fill="#0d4984"/>
<rect x="378.10" y="243.90" width="3.6" height="3.6" fill="#0d4984"/>
<rect x="370.60" y="258.30" width="3.6" height="3.6" fill="#0d4984"/>
<rect x="370.60" y="272.70" width="3.6" height="3.6" fill="#0d4984"/>
<line x1="392.9" y1="159.3" x2="392.9" y2="173.70000000000002" stroke="#c8102e" stroke-width="1.4"/>
<line x1="387.9" y1="159.3" x2="397.9" y2="159.3" stroke="#c8102e" stroke-width="1.4"/>
<line x1="392.9" y1="216.90000000000003" x2="392.9" y2="245.70000000000002" stroke="#c8102e" stroke-width="1.4"/>
<line x1="387.9" y1="245.70000000000002" x2="397.9" y2="245.70000000000002" stroke="#c8102e" stroke-width="1.4"/>
<rect x="383.9" y="173.7" width="18.0" height="43.2" fill="none" stroke="#c8102e" stroke-width="1.4"/>
<line x1="383.9" y1="202.50000000000003" x2="401.9" y2="202.50000000000003" stroke="#c8102e" stroke-width="1.4"/>
<circle cx="389.40" cy="159.30" r="2.2" fill="#c8102e"/>
<circle cx="396.40" cy="159.30" r="2.2" fill="#c8102e"/>
<circle cx="389.40" cy="173.70" r="2.2" fill="#c8102e"/>
<circle cx="396.40" cy="173.70" r="2.2" fill="#c8102e"/>
<circle cx="392.90" cy="188.10" r="2.2" fill="#c8102e"/>
<circle cx="385.90" cy="202.50" r="2.2" fill="#c8102e"/>
<circle cx="392.90" cy="202.50" r="2.2" fill="#c8102e"/>
<circle cx="399.90" cy="202.50" r="2.2" fill="#c8102e"/>
<circle cx="392.90" cy="216.90" r="2.2" fill="#c8102e"/>
<circle cx="389.40" cy="245.70" r="2.2" fill="#c8102e"/>
<circle cx="396.40" cy="245.70" r="2.2" fill="#c8102e"/>
<line x1="421.6" y1="188.10000000000002" x2="421.6" y2="216.90000000000003" stroke="#235b95" stroke-width="1.4"/>
<line x1="416.6" y1="188.10000000000002" x2="426.6" y2="188.10000000000002" stroke="#235b95" stroke-width="1.4"/>
<line x1="421.6" y1="245.70000000000002" x2="421.6" y2="274.5" stroke="#235b95" stroke-width="1.4"/>
<line x1="416.6" y1="274.5" x2="426.6" y2="274.5" stroke="#235b95" stroke-width="1.4"/>
<rect x="412.6" y="216.9" width="18.0" height="28.8" fill="none" stroke="#235b95" stroke-width="1.4"/>
<line x1="412.6" y1="231.3" x2="430.6" y2="231.3" stroke="#235b95" stroke-width="1.4"/>
<rect x="419.80" y="186.30" width="3.6" height="3.6" fill="#0d4984"/>
<rect x="413.80" y="215.10" width="3.6" height="3.6" fill="#0d4984"/>
<rect x="417.80" y="215.10" width="3.6" height="3.6" fill="#0d4984"/>
<rect x="421.80" y="215.10" width="3.6" height="3.6" fill="#0d4984"/>
<rect x="425.80" y="215.10" width="3.6" height="3.6" fill="#0d4984"/>
<rect x="413.80" y="229.50" width="3.6" height="3.6" fill="#0d4984"/>
<rect x="417.80" y="229.50" width="3.6" height="3.6" fill="#0d4984"/>
<rect x="421.80" y="229.50" width="3.6" height="3.6" fill="#0d4984"/>
<rect x="425.80" y="229.50" width="3.6" height="3.6" fill="#0d4984"/>
<rect x="416.80" y="243.90" width="3.6" height="3.6" fill="#0d4984"/>
<rect x="422.80" y="243.90" width="3.6" height="3.6" fill="#0d4984"/>
<rect x="419.80" y="272.70" width="3.6" height="3.6" fill="#0d4984"/>
<line x1="442.5" y1="159.3" x2="442.5" y2="188.10000000000002" stroke="#c8102e" stroke-width="1.4"/>
<line x1="437.5" y1="159.3" x2="447.5" y2="159.3" stroke="#c8102e" stroke-width="1.4"/>
<rect x="433.5" y="188.1" width="18.0" height="43.2" fill="none" stroke="#c8102e" stroke-width="1.4"/>
<circle cx="439.50" cy="159.30" r="2.2" fill="#c8102e"/>
<circle cx="442.50" cy="159.30" r="2.2" fill="#c8102e"/>
<circle cx="445.50" cy="159.30" r="2.2" fill="#c8102e"/>
<circle cx="435.00" cy="188.10" r="2.2" fill="#c8102e"/>
<circle cx="438.00" cy="188.10" r="2.2" fill="#c8102e"/>
<circle cx="441.00" cy="188.10" r="2.2" fill="#c8102e"/>
<circle cx="444.00" cy="188.10" r="2.2" fill="#c8102e"/>
<circle cx="447.00" cy="188.10" r="2.2" fill="#c8102e"/>
<circle cx="450.00" cy="188.10" r="2.2" fill="#c8102e"/>
<circle cx="436.50" cy="231.30" r="2.2" fill="#c8102e"/>
<circle cx="439.50" cy="231.30" r="2.2" fill="#c8102e"/>
<circle cx="442.50" cy="231.30" r="2.2" fill="#c8102e"/>
<circle cx="445.50" cy="231.30" r="2.2" fill="#c8102e"/>
<circle cx="448.50" cy="231.30" r="2.2" fill="#c8102e"/>
<line x1="470.9" y1="188.10000000000002" x2="470.9" y2="202.50000000000003" stroke="#235b95" stroke-width="1.4"/>
<line x1="465.9" y1="188.10000000000002" x2="475.9" y2="188.10000000000002" stroke="#235b95" stroke-width="1.4"/>
<line x1="470.9" y1="231.3" x2="470.9" y2="260.1" stroke="#235b95" stroke-width="1.4"/>
<line x1="465.9" y1="260.1" x2="475.9" y2="260.1" stroke="#235b95" stroke-width="1.4"/>
<rect x="461.9" y="202.5" width="18.0" height="28.8" fill="none" stroke="#235b95" stroke-width="1.4"/>
<line x1="461.9" y1="216.90000000000003" x2="479.9" y2="216.90000000000003" stroke="#235b95" stroke-width="1.4"/>
<rect x="469.10" y="186.30" width="3.6" height="3.6" fill="#0d4984"/>
<rect x="462.10" y="200.70" width="3.6" height="3.6" fill="#0d4984"/>
<rect x="469.10" y="200.70" width="3.6" height="3.6" fill="#0d4984"/>
<rect x="476.10" y="200.70" width="3.6" height="3.6" fill="#0d4984"/>
<rect x="462.10" y="215.10" width="3.6" height="3.6" fill="#0d4984"/>
<rect x="469.10" y="215.10" width="3.6" height="3.6" fill="#0d4984"/>
<rect x="476.10" y="215.10" width="3.6" height="3.6" fill="#0d4984"/>
<rect x="462.10" y="229.50" width="3.6" height="3.6" fill="#0d4984"/>
<rect x="469.10" y="229.50" width="3.6" height="3.6" fill="#0d4984"/>
<rect x="476.10" y="229.50" width="3.6" height="3.6" fill="#0d4984"/>
<rect x="469.10" y="258.30" width="3.6" height="3.6" fill="#0d4984"/>
<line x1="491.6" y1="130.50000000000003" x2="491.6" y2="144.9" stroke="#c8102e" stroke-width="1.4"/>
<line x1="486.6" y1="130.50000000000003" x2="496.6" y2="130.50000000000003" stroke="#c8102e" stroke-width="1.4"/>
<line x1="491.6" y1="188.10000000000002" x2="491.6" y2="216.90000000000003" stroke="#c8102e" stroke-width="1.4"/>
<line x1="486.6" y1="216.90000000000003" x2="496.6" y2="216.90000000000003" stroke="#c8102e" stroke-width="1.4"/>
<rect x="482.6" y="144.9" width="18.0" height="43.2" fill="none" stroke="#c8102e" stroke-width="1.4"/>
<line x1="482.6" y1="159.3" x2="500.6" y2="159.3" stroke="#c8102e" stroke-width="1.4"/>
<circle cx="491.60" cy="130.50" r="2.2" fill="#c8102e"/>
<circle cx="484.60" cy="144.90" r="2.2" fill="#c8102e"/>
<circle cx="491.60" cy="144.90" r="2.2" fill="#c8102e"/>
<circle cx="498.60" cy="144.90" r="2.2" fill="#c8102e"/>
<circle cx="488.10" cy="159.30" r="2.2" fill="#c8102e"/>
<circle cx="495.10" cy="159.30" r="2.2" fill="#c8102e"/>
<circle cx="488.10" cy="173.70" r="2.2" fill="#c8102e"/>
<circle cx="495.10" cy="173.70" r="2.2" fill="#c8102e"/>
<circle cx="488.10" cy="188.10" r="2.2" fill="#c8102e"/>
<circle cx="495.10" cy="188.10" r="2.2" fill="#c8102e"/>
<text x="314.2" y="163.6" font-size="9.7" text-anchor="start" fill="#231f20" textLength="30.7" lengthAdjust="spacingAndGlyphs">P&lt;0.05</text>
<line x1="314.2" y1="166.3" x2="343.4" y2="166.3" stroke="#1a1a1a" stroke-width="1.25"/>
<text x="364.4" y="151.0" font-size="9.7" text-anchor="start" fill="#231f20" textLength="30.5" lengthAdjust="spacingAndGlyphs">P&lt;0.05</text>
<line x1="364.4" y1="153.9" x2="393.8" y2="153.9" stroke="#1a1a1a" stroke-width="1.25"/>
<text x="416.0" y="150.2" font-size="9.7" text-anchor="start" fill="#231f20" textLength="30.7" lengthAdjust="spacingAndGlyphs">P&lt;0.05</text>
<line x1="416.0" y1="153.10000000000002" x2="445.6" y2="153.10000000000002" stroke="#1a1a1a" stroke-width="1.25"/>
<text x="466.0" y="122.10000000000001" font-size="9.7" text-anchor="start" fill="#231f20" textLength="30.4" lengthAdjust="spacingAndGlyphs">P&lt;0.05</text>
<line x1="466.0" y1="124.6" x2="495.5" y2="124.6" stroke="#1a1a1a" stroke-width="1.25"/>
<text x="20.8" y="370.6" font-size="16.5" text-anchor="start" fill="#111" font-weight="bold">D</text>
<line x1="53.0" y1="384.43999999999994" x2="53.0" y2="583.4" stroke="#1a1a1a" stroke-width="1.5"/>
<line x1="48.5" y1="385.03999999999996" x2="53.0" y2="385.03999999999996" stroke="#1a1a1a" stroke-width="1.3"/>
<text x="44.4" y="388.53999999999996" font-size="10.3" text-anchor="end" fill="#2a2a2a">1.2</text>
<line x1="48.5" y1="417.99999999999994" x2="53.0" y2="417.99999999999994" stroke="#1a1a1a" stroke-width="1.3"/>
<text x="44.4" y="421.49999999999994" font-size="10.3" text-anchor="end" fill="#2a2a2a">1.0</text>
<line x1="48.5" y1="450.9599999999999" x2="53.0" y2="450.9599999999999" stroke="#1a1a1a" stroke-width="1.3"/>
<text x="44.4" y="454.4599999999999" font-size="10.3" text-anchor="end" fill="#2a2a2a">0.8</text>
<line x1="48.5" y1="483.91999999999996" x2="53.0" y2="483.91999999999996" stroke="#1a1a1a" stroke-width="1.3"/>
<text x="44.4" y="487.41999999999996" font-size="10.3" text-anchor="end" fill="#2a2a2a">0.6</text>
<line x1="48.5" y1="516.88" x2="53.0" y2="516.88" stroke="#1a1a1a" stroke-width="1.3"/>
<text x="44.4" y="520.38" font-size="10.3" text-anchor="end" fill="#2a2a2a">0.4</text>
<line x1="48.5" y1="549.8399999999999" x2="53.0" y2="549.8399999999999" stroke="#1a1a1a" stroke-width="1.3"/>
<text x="44.4" y="553.3399999999999" font-size="10.3" text-anchor="end" fill="#2a2a2a">0.2</text>
<line x1="48.5" y1="582.8" x2="53.0" y2="582.8" stroke="#1a1a1a" stroke-width="1.3"/>
<text x="44.4" y="586.3" font-size="10.3" text-anchor="end" fill="#2a2a2a">0.0</text>
<line x1="52.3" y1="582.8" x2="243" y2="582.8" stroke="#231f20" stroke-width="1.4"/>
<text x="83.3" y="595.8" font-size="9.8" text-anchor="middle" fill="#231f20" textLength="33.5" lengthAdjust="spacingAndGlyphs">Week-1</text>
<text x="129.3" y="595.8" font-size="9.8" text-anchor="middle" fill="#231f20" textLength="33.5" lengthAdjust="spacingAndGlyphs">Week-2</text>
<text x="172.0" y="595.8" font-size="9.8" text-anchor="middle" fill="#231f20" textLength="33.5" lengthAdjust="spacingAndGlyphs">Week-3</text>
<text x="216.0" y="595.8" font-size="9.8" text-anchor="middle" fill="#231f20" textLength="33.5" lengthAdjust="spacingAndGlyphs">Week-4</text>
<text transform="translate(20.2,475.3) rotate(-90)" x="0" y="0" font-size="14" text-anchor="middle" fill="#231f20" textLength="75.0" lengthAdjust="spacingAndGlyphs">Right turn ratio</text>
<circle cx="66.00" cy="378.60" r="2.0" fill="#c8102e"/>
<rect x="64.10" y="390.00" width="3.8" height="3.8" fill="#0d4984"/>
<text x="71.9" y="383.4" font-size="11" text-anchor="start" fill="#231f20" textLength="35.6" lengthAdjust="spacingAndGlyphs">Vehicle</text>
<text x="71.9" y="396.1" font-size="11" text-anchor="start" fill="#231f20" textLength="33.5" lengthAdjust="spacingAndGlyphs">ML265</text>
<line x1="70.4" y1="455.0799999999999" x2="70.4" y2="475.67999999999995" stroke="#c8102e" stroke-width="1.3"/>
<line x1="65.9" y1="475.67999999999995" x2="74.9" y2="475.67999999999995" stroke="#c8102e" stroke-width="1.3"/>
<rect x="62.3" y="418.0" width="16.2" height="37.1" fill="none" stroke="#c8102e" stroke-width="1.3"/>
<line x1="62.300000000000004" y1="434.4799999999999" x2="78.5" y2="434.4799999999999" stroke="#c8102e" stroke-width="1.3"/>
<circle cx="63.60" cy="418.00" r="2.1" fill="#c8102e"/>
<circle cx="70.40" cy="418.00" r="2.1" fill="#c8102e"/>
<circle cx="77.20" cy="418.00" r="2.1" fill="#c8102e"/>
<circle cx="70.40" cy="426.24" r="2.1" fill="#c8102e"/>
<circle cx="66.90" cy="434.48" r="2.1" fill="#c8102e"/>
<circle cx="73.90" cy="434.48" r="2.1" fill="#c8102e"/>
<circle cx="70.40" cy="450.96" r="2.1" fill="#c8102e"/>
<circle cx="70.40" cy="459.20" r="2.1" fill="#c8102e"/>
<circle cx="70.40" cy="475.68" r="2.1" fill="#c8102e"/>
<line x1="89.5" y1="417.99999999999994" x2="89.5" y2="434.4799999999999" stroke="#235b95" stroke-width="1.3"/>
<line x1="85.0" y1="417.99999999999994" x2="94.0" y2="417.99999999999994" stroke="#235b95" stroke-width="1.3"/>
<line x1="89.5" y1="483.91999999999996" x2="89.5" y2="508.63999999999993" stroke="#235b95" stroke-width="1.3"/>
<line x1="85.0" y1="508.63999999999993" x2="94.0" y2="508.63999999999993" stroke="#235b95" stroke-width="1.3"/>
<rect x="81.4" y="434.5" width="16.2" height="49.4" fill="none" stroke="#235b95" stroke-width="1.3"/>
<line x1="81.4" y1="450.9599999999999" x2="97.6" y2="450.9599999999999" stroke="#235b95" stroke-width="1.3"/>
<rect x="87.65" y="416.15" width="3.7" height="3.7" fill="#0d4984"/>
<rect x="81.45" y="432.63" width="3.7" height="3.7" fill="#0d4984"/>
<rect x="84.55" y="432.63" width="3.7" height="3.7" fill="#0d4984"/>
<rect x="87.65" y="432.63" width="3.7" height="3.7" fill="#0d4984"/>
<rect x="90.75" y="432.63" width="3.7" height="3.7" fill="#0d4984"/>
<rect x="93.85" y="432.63" width="3.7" height="3.7" fill="#0d4984"/>
<rect x="87.65" y="449.11" width="3.7" height="3.7" fill="#0d4984"/>
<rect x="85.85" y="465.59" width="3.7" height="3.7" fill="#0d4984"/>
<rect x="89.45" y="465.59" width="3.7" height="3.7" fill="#0d4984"/>
<rect x="87.65" y="482.07" width="3.7" height="3.7" fill="#0d4984"/>
<rect x="87.65" y="490.31" width="3.7" height="3.7" fill="#0d4984"/>
<rect x="87.65" y="506.79" width="3.7" height="3.7" fill="#0d4984"/>
<line x1="115.6" y1="446.01599999999996" x2="115.6" y2="450.9599999999999" stroke="#c8102e" stroke-width="1.3"/>
<line x1="111.1" y1="450.9599999999999" x2="120.1" y2="450.9599999999999" stroke="#c8102e" stroke-width="1.3"/>
<rect x="107.5" y="418.0" width="16.2" height="28.0" fill="none" stroke="#c8102e" stroke-width="1.3"/>
<line x1="107.5" y1="434.4799999999999" x2="123.69999999999999" y2="434.4799999999999" stroke="#c8102e" stroke-width="1.3"/>
<circle cx="108.80" cy="418.00" r="2.1" fill="#c8102e"/>
<circle cx="115.80" cy="418.00" r="2.1" fill="#c8102e"/>
<circle cx="122.10" cy="418.00" r="2.1" fill="#c8102e"/>
<circle cx="115.80" cy="426.24" r="2.1" fill="#c8102e"/>
<circle cx="115.80" cy="434.48" r="2.1" fill="#c8102e"/>
<circle cx="112.00" cy="442.72" r="2.1" fill="#c8102e"/>
<circle cx="119.00" cy="442.72" r="2.1" fill="#c8102e"/>
<circle cx="112.20" cy="450.96" r="2.1" fill="#c8102e"/>
<circle cx="118.80" cy="450.96" r="2.1" fill="#c8102e"/>
<line x1="134.5" y1="417.99999999999994" x2="134.5" y2="434.4799999999999" stroke="#235b95" stroke-width="1.3"/>
<line x1="130.0" y1="417.99999999999994" x2="139.0" y2="417.99999999999994" stroke="#235b95" stroke-width="1.3"/>
<line x1="134.5" y1="492.15999999999997" x2="134.5" y2="549.8399999999999" stroke="#235b95" stroke-width="1.3"/>
<line x1="130.0" y1="549.8399999999999" x2="139.0" y2="549.8399999999999" stroke="#235b95" stroke-width="1.3"/>
<rect x="126.4" y="434.5" width="16.2" height="57.7" fill="none" stroke="#235b95" stroke-width="1.3"/>
<line x1="126.4" y1="459.19999999999993" x2="142.6" y2="459.19999999999993" stroke="#235b95" stroke-width="1.3"/>
<rect x="132.65" y="416.15" width="3.7" height="3.7" fill="#0d4984"/>
<rect x="128.65" y="432.63" width="3.7" height="3.7" fill="#0d4984"/>
<rect x="136.85" y="432.63" width="3.7" height="3.7" fill="#0d4984"/>
<rect x="132.65" y="449.11" width="3.7" height="3.7" fill="#0d4984"/>
<rect x="128.65" y="457.35" width="3.7" height="3.7" fill="#0d4984"/>
<rect x="136.85" y="457.35" width="3.7" height="3.7" fill="#0d4984"/>
<rect x="128.65" y="465.59" width="3.7" height="3.7" fill="#0d4984"/>
<rect x="136.65" y="465.59" width="3.7" height="3.7" fill="#0d4984"/>
<rect x="132.65" y="490.31" width="3.7" height="3.7" fill="#0d4984"/>
<rect x="132.65" y="515.03" width="3.7" height="3.7" fill="#0d4984"/>
<rect x="132.65" y="547.99" width="3.7" height="3.7" fill="#0d4984"/>
<line x1="160.6" y1="442.7199999999999" x2="160.6" y2="475.67999999999995" stroke="#c8102e" stroke-width="1.3"/>
<line x1="156.1" y1="475.67999999999995" x2="165.1" y2="475.67999999999995" stroke="#c8102e" stroke-width="1.3"/>
<rect x="152.5" y="418.0" width="16.2" height="24.7" fill="none" stroke="#c8102e" stroke-width="1.3"/>
<line x1="152.5" y1="426.23999999999995" x2="168.7" y2="426.23999999999995" stroke="#c8102e" stroke-width="1.3"/>
<circle cx="154.60" cy="418.00" r="2.1" fill="#c8102e"/>
<circle cx="158.60" cy="418.00" r="2.1" fill="#c8102e"/>
<circle cx="162.60" cy="418.00" r="2.1" fill="#c8102e"/>
<circle cx="166.60" cy="418.00" r="2.1" fill="#c8102e"/>
<circle cx="156.60" cy="426.24" r="2.1" fill="#c8102e"/>
<circle cx="160.60" cy="426.24" r="2.1" fill="#c8102e"/>
<circle cx="164.60" cy="426.24" r="2.1" fill="#c8102e"/>
<circle cx="160.60" cy="459.20" r="2.1" fill="#c8102e"/>
<circle cx="160.60" cy="475.68" r="2.1" fill="#c8102e"/>
<line x1="179.6" y1="417.99999999999994" x2="179.6" y2="434.4799999999999" stroke="#235b95" stroke-width="1.3"/>
<line x1="175.1" y1="417.99999999999994" x2="184.1" y2="417.99999999999994" stroke="#235b95" stroke-width="1.3"/>
<line x1="179.6" y1="516.88" x2="179.6" y2="541.5999999999999" stroke="#235b95" stroke-width="1.3"/>
<line x1="175.1" y1="541.5999999999999" x2="184.1" y2="541.5999999999999" stroke="#235b95" stroke-width="1.3"/>
<rect x="171.5" y="434.5" width="16.2" height="82.4" fill="none" stroke="#235b95" stroke-width="1.3"/>
<line x1="171.5" y1="459.19999999999993" x2="187.7" y2="459.19999999999993" stroke="#235b95" stroke-width="1.3"/>
<rect x="177.75" y="416.15" width="3.7" height="3.7" fill="#0d4984"/>
<rect x="177.75" y="424.39" width="3.7" height="3.7" fill="#0d4984"/>
<rect x="177.75" y="432.63" width="3.7" height="3.7" fill="#0d4984"/>
<rect x="177.75" y="440.87" width="3.7" height="3.7" fill="#0d4984"/>
<rect x="177.75" y="449.11" width="3.7" height="3.7" fill="#0d4984"/>
<rect x="177.75" y="457.35" width="3.7" height="3.7" fill="#0d4984"/>
<rect x="177.75" y="465.59" width="3.7" height="3.7" fill="#0d4984"/>
<rect x="177.75" y="482.07" width="3.7" height="3.7" fill="#0d4984"/>
<rect x="174.75" y="515.03" width="3.7" height="3.7" fill="#0d4984"/>
<rect x="180.75" y="515.03" width="3.7" height="3.7" fill="#0d4984"/>
<rect x="177.75" y="539.75" width="3.7" height="3.7" fill="#0d4984"/>
<line x1="205.9" y1="429.53599999999994" x2="205.9" y2="450.9599999999999" stroke="#c8102e" stroke-width="1.3"/>
<line x1="201.4" y1="450.9599999999999" x2="210.4" y2="450.9599999999999" stroke="#c8102e" stroke-width="1.3"/>
<rect x="197.8" y="418.0" width="16.2" height="11.5" fill="none" stroke="#c8102e" stroke-width="1.3"/>
<line x1="197.8" y1="426.23999999999995" x2="214.0" y2="426.23999999999995" stroke="#c8102e" stroke-width="1.3"/>
<circle cx="198.90" cy="418.00" r="2.1" fill="#c8102e"/>
<circle cx="203.60" cy="418.00" r="2.1" fill="#c8102e"/>
<circle cx="208.20" cy="418.00" r="2.1" fill="#c8102e"/>
<circle cx="212.90" cy="418.00" r="2.1" fill="#c8102e"/>
<circle cx="201.40" cy="426.24" r="2.1" fill="#c8102e"/>
<circle cx="205.90" cy="426.24" r="2.1" fill="#c8102e"/>
<circle cx="210.40" cy="426.24" r="2.1" fill="#c8102e"/>
<circle cx="205.90" cy="434.48" r="2.1" fill="#c8102e"/>
<circle cx="205.90" cy="450.96" r="2.1" fill="#c8102e"/>
<line x1="225.1" y1="417.99999999999994" x2="225.1" y2="434.4799999999999" stroke="#235b95" stroke-width="1.3"/>
<line x1="220.6" y1="417.99999999999994" x2="229.6" y2="417.99999999999994" stroke="#235b95" stroke-width="1.3"/>
<line x1="225.1" y1="459.19999999999993" x2="225.1" y2="475.67999999999995" stroke="#235b95" stroke-width="1.3"/>
<line x1="220.6" y1="475.67999999999995" x2="229.6" y2="475.67999999999995" stroke="#235b95" stroke-width="1.3"/>
<rect x="217.0" y="434.5" width="16.2" height="24.7" fill="none" stroke="#235b95" stroke-width="1.3"/>
<line x1="217.0" y1="450.9599999999999" x2="233.2" y2="450.9599999999999" stroke="#235b95" stroke-width="1.3"/>
<rect x="223.25" y="416.15" width="3.7" height="3.7" fill="#0d4984"/>
<rect x="220.25" y="432.63" width="3.7" height="3.7" fill="#0d4984"/>
<rect x="226.25" y="432.63" width="3.7" height="3.7" fill="#0d4984"/>
<rect x="217.25" y="449.11" width="3.7" height="3.7" fill="#0d4984"/>
<rect x="220.25" y="449.11" width="3.7" height="3.7" fill="#0d4984"/>
<rect x="223.25" y="449.11" width="3.7" height="3.7" fill="#0d4984"/>
<rect x="226.25" y="449.11" width="3.7" height="3.7" fill="#0d4984"/>
<rect x="229.25" y="449.11" width="3.7" height="3.7" fill="#0d4984"/>
<rect x="218.25" y="457.35" width="3.7" height="3.7" fill="#0d4984"/>
<rect x="221.55" y="457.35" width="3.7" height="3.7" fill="#0d4984"/>
<rect x="224.95" y="457.35" width="3.7" height="3.7" fill="#0d4984"/>
<rect x="228.25" y="457.35" width="3.7" height="3.7" fill="#0d4984"/>
<rect x="223.25" y="473.83" width="3.7" height="3.7" fill="#0d4984"/>
<text x="106.10000000000001" y="406.2" font-size="9.7" text-anchor="start" fill="#231f20" textLength="30.3" lengthAdjust="spacingAndGlyphs">P&lt;0.05</text>
<line x1="106.10000000000001" y1="409.1" x2="134.3" y2="409.1" stroke="#1a1a1a" stroke-width="1.25"/>
<text x="155.0" y="406.2" font-size="9.7" text-anchor="start" fill="#231f20" textLength="30.3" lengthAdjust="spacingAndGlyphs">P&lt;0.05</text>
<line x1="155.0" y1="409.3" x2="183.2" y2="409.3" stroke="#1a1a1a" stroke-width="1.25"/>
<text x="197.89999999999998" y="407.9" font-size="9.7" text-anchor="start" fill="#231f20" textLength="30.6" lengthAdjust="spacingAndGlyphs">P&lt;0.05</text>
<line x1="197.89999999999998" y1="410.5" x2="227.9" y2="410.5" stroke="#1a1a1a" stroke-width="1.25"/>
<path d="M222.5,383 L242,363.4 L261.5,383" fill="none" stroke="#2e2e2e" stroke-width="10.8" stroke-linecap="round" stroke-linejoin="round"/>
<path d="M222.5,383 L242,363.4 L261.5,383" fill="none" stroke="#b9babc" stroke-width="8.8" stroke-linecap="round" stroke-linejoin="round"/>
<path d="M241.6,391 C241.2,394 242.6,395.5 240.6,397.5 C239.6,398.8 240,400 240.4,401" stroke="#c46a6a" stroke-width="0.6" fill="none"/>
<ellipse cx="241.7" cy="386.2" rx="3.7" ry="5.8" fill="#3c3a3a"/>
<ellipse cx="241.7" cy="380.6" rx="2.1" ry="2.4" fill="#3c3a3a"/>
<ellipse cx="240.3" cy="383" rx="1.0" ry="1.4" fill="#6a6666"/>
<text x="278.6" y="376.3" font-size="16.5" text-anchor="start" fill="#111" font-weight="bold">E</text>
<line x1="305.7" y1="384.296" x2="305.7" y2="586.1" stroke="#1a1a1a" stroke-width="1.5"/>
<line x1="301.2" y1="384.896" x2="305.7" y2="384.896" stroke="#1a1a1a" stroke-width="1.3"/>
<text x="296.6" y="388.396" font-size="10.3" text-anchor="end" fill="#2a2a2a">120</text>
<line x1="301.2" y1="435.047" x2="305.7" y2="435.047" stroke="#1a1a1a" stroke-width="1.3"/>
<text x="296.6" y="438.547" font-size="10.3" text-anchor="end" fill="#2a2a2a">90</text>
<line x1="301.2" y1="485.198" x2="305.7" y2="485.198" stroke="#1a1a1a" stroke-width="1.3"/>
<text x="296.6" y="488.698" font-size="10.3" text-anchor="end" fill="#2a2a2a">60</text>
<line x1="301.2" y1="535.349" x2="305.7" y2="535.349" stroke="#1a1a1a" stroke-width="1.3"/>
<text x="296.6" y="538.849" font-size="10.3" text-anchor="end" fill="#2a2a2a">30</text>
<line x1="301.2" y1="585.5" x2="305.7" y2="585.5" stroke="#1a1a1a" stroke-width="1.3"/>
<text x="296.6" y="589.0" font-size="10.3" text-anchor="end" fill="#2a2a2a">0</text>
<line x1="305.0" y1="585.5" x2="496.2" y2="585.5" stroke="#231f20" stroke-width="1.4"/>
<text x="332.0" y="598.8" font-size="9.8" text-anchor="middle" fill="#231f20" textLength="33.5" lengthAdjust="spacingAndGlyphs">Week-1</text>
<text x="377.5" y="598.8" font-size="9.8" text-anchor="middle" fill="#231f20" textLength="33.5" lengthAdjust="spacingAndGlyphs">Week-2</text>
<text x="420.2" y="598.8" font-size="9.8" text-anchor="middle" fill="#231f20" textLength="33.5" lengthAdjust="spacingAndGlyphs">Week-3</text>
<text x="465.2" y="598.8" font-size="9.8" text-anchor="middle" fill="#231f20" textLength="33.5" lengthAdjust="spacingAndGlyphs">Week-4</text>
<text transform="translate(277.6,489.4) rotate(-90)" x="0" y="0" font-size="14.2" text-anchor="middle" fill="#231f20" textLength="105.4" lengthAdjust="spacingAndGlyphs">Fall latency (seconds)</text>
<circle cx="322.50" cy="379.60" r="2.0" fill="#c8102e"/>
<rect x="320.60" y="391.20" width="3.8" height="3.8" fill="#0d4984"/>
<text x="328.3" y="383.4" font-size="11" text-anchor="start" fill="#231f20" textLength="35.6" lengthAdjust="spacingAndGlyphs">Vehicle</text>
<text x="328.3" y="396.6" font-size="11" text-anchor="start" fill="#231f20" textLength="33.5" lengthAdjust="spacingAndGlyphs">ML265</text>
<line x1="322.9" y1="503.5" x2="322.9" y2="516.5" stroke="#c8102e" stroke-width="1.3"/>
<line x1="318.4" y1="503.5" x2="327.4" y2="503.5" stroke="#c8102e" stroke-width="1.3"/>
<line x1="322.9" y1="556.2" x2="322.9" y2="572.1" stroke="#c8102e" stroke-width="1.3"/>
<line x1="318.4" y1="572.1" x2="327.4" y2="572.1" stroke="#c8102e" stroke-width="1.3"/>
<rect x="314.8" y="516.5" width="16.2" height="39.7" fill="none" stroke="#c8102e" stroke-width="1.3"/>
<line x1="314.79999999999995" y1="540.2" x2="331.0" y2="540.2" stroke="#c8102e" stroke-width="1.3"/>
<circle cx="318.80" cy="507.10" r="2.1" fill="#c8102e"/>
<circle cx="327.10" cy="503.70" r="2.1" fill="#c8102e"/>
<circle cx="318.80" cy="516.80" r="2.1" fill="#c8102e"/>
<circle cx="327.10" cy="515.00" r="2.1" fill="#c8102e"/>
<circle cx="322.90" cy="529.60" r="2.1" fill="#c8102e"/>
<circle cx="327.10" cy="540.20" r="2.1" fill="#c8102e"/>
<circle cx="318.80" cy="543.70" r="2.1" fill="#c8102e"/>
<circle cx="322.90" cy="550.30" r="2.1" fill="#c8102e"/>
<circle cx="322.90" cy="557.10" r="2.1" fill="#c8102e"/>
<circle cx="318.80" cy="572.10" r="2.1" fill="#c8102e"/>
<circle cx="327.10" cy="572.10" r="2.1" fill="#c8102e"/>
<line x1="342.1" y1="467.1" x2="342.1" y2="484.6" stroke="#235b95" stroke-width="1.3"/>
<line x1="337.6" y1="467.1" x2="346.6" y2="467.1" stroke="#235b95" stroke-width="1.3"/>
<line x1="342.1" y1="541.2" x2="342.1" y2="560.7" stroke="#235b95" stroke-width="1.3"/>
<line x1="337.6" y1="560.7" x2="346.6" y2="560.7" stroke="#235b95" stroke-width="1.3"/>
<rect x="334.0" y="484.6" width="16.2" height="56.6" fill="none" stroke="#235b95" stroke-width="1.3"/>
<line x1="334.0" y1="510" x2="350.20000000000005" y2="510" stroke="#235b95" stroke-width="1.3"/>
<rect x="340.25" y="465.25" width="3.7" height="3.7" fill="#0d4984"/>
<rect x="340.25" y="470.15" width="3.7" height="3.7" fill="#0d4984"/>
<rect x="340.25" y="481.65" width="3.7" height="3.7" fill="#0d4984"/>
<rect x="336.15" y="505.25" width="3.7" height="3.7" fill="#0d4984"/>
<rect x="344.25" y="501.85" width="3.7" height="3.7" fill="#0d4984"/>
<rect x="344.25" y="508.55" width="3.7" height="3.7" fill="#0d4984"/>
<rect x="340.25" y="526.45" width="3.7" height="3.7" fill="#0d4984"/>
<rect x="340.25" y="535.15" width="3.7" height="3.7" fill="#0d4984"/>
<rect x="340.25" y="540.55" width="3.7" height="3.7" fill="#0d4984"/>
<rect x="340.25" y="545.75" width="3.7" height="3.7" fill="#0d4984"/>
<rect x="340.25" y="558.85" width="3.7" height="3.7" fill="#0d4984"/>
<line x1="368.8" y1="460.7" x2="368.8" y2="500.8" stroke="#c8102e" stroke-width="1.3"/>
<line x1="364.3" y1="460.7" x2="373.3" y2="460.7" stroke="#c8102e" stroke-width="1.3"/>
<line x1="368.8" y1="564.4" x2="368.8" y2="578.2" stroke="#c8102e" stroke-width="1.3"/>
<line x1="364.3" y1="578.2" x2="373.3" y2="578.2" stroke="#c8102e" stroke-width="1.3"/>
<rect x="360.7" y="500.8" width="16.2" height="63.6" fill="none" stroke="#c8102e" stroke-width="1.3"/>
<line x1="360.7" y1="528.9" x2="376.90000000000003" y2="528.9" stroke="#c8102e" stroke-width="1.3"/>
<circle cx="368.80" cy="460.70" r="2.1" fill="#c8102e"/>
<circle cx="364.20" cy="500.30" r="2.1" fill="#c8102e"/>
<circle cx="372.90" cy="497.30" r="2.1" fill="#c8102e"/>
<circle cx="368.80" cy="515.60" r="2.1" fill="#c8102e"/>
<circle cx="368.80" cy="522.00" r="2.1" fill="#c8102e"/>
<circle cx="368.80" cy="528.90" r="2.1" fill="#c8102e"/>
<circle cx="368.80" cy="550.40" r="2.1" fill="#c8102e"/>
<circle cx="368.80" cy="555.30" r="2.1" fill="#c8102e"/>
<circle cx="368.80" cy="564.40" r="2.1" fill="#c8102e"/>
<circle cx="364.20" cy="578.20" r="2.1" fill="#c8102e"/>
<circle cx="372.90" cy="578.20" r="2.1" fill="#c8102e"/>
<line x1="387.8" y1="420.6" x2="387.8" y2="461.4" stroke="#235b95" stroke-width="1.3"/>
<line x1="383.3" y1="420.6" x2="392.3" y2="420.6" stroke="#235b95" stroke-width="1.3"/>
<line x1="387.8" y1="533.3" x2="387.8" y2="551.8" stroke="#235b95" stroke-width="1.3"/>
<line x1="383.3" y1="551.8" x2="392.3" y2="551.8" stroke="#235b95" stroke-width="1.3"/>
<rect x="379.7" y="461.4" width="16.2" height="71.9" fill="none" stroke="#235b95" stroke-width="1.3"/>
<line x1="379.7" y1="487" x2="395.90000000000003" y2="487" stroke="#235b95" stroke-width="1.3"/>
<rect x="385.95" y="418.75" width="3.7" height="3.7" fill="#0d4984"/>
<rect x="385.95" y="429.55" width="3.7" height="3.7" fill="#0d4984"/>
<rect x="385.95" y="458.15" width="3.7" height="3.7" fill="#0d4984"/>
<rect x="385.95" y="473.25" width="3.7" height="3.7" fill="#0d4984"/>
<rect x="392.85" y="469.85" width="3.7" height="3.7" fill="#0d4984"/>
<rect x="385.95" y="485.15" width="3.7" height="3.7" fill="#0d4984"/>
<rect x="379.55" y="529.85" width="3.7" height="3.7" fill="#0d4984"/>
<rect x="385.95" y="528.65" width="3.7" height="3.7" fill="#0d4984"/>
<rect x="392.15" y="530.95" width="3.7" height="3.7" fill="#0d4984"/>
<rect x="385.95" y="540.15" width="3.7" height="3.7" fill="#0d4984"/>
<rect x="385.95" y="549.95" width="3.7" height="3.7" fill="#0d4984"/>
<line x1="414.5" y1="498" x2="414.5" y2="504.6" stroke="#c8102e" stroke-width="1.3"/>
<line x1="410.0" y1="498" x2="419.0" y2="498" stroke="#c8102e" stroke-width="1.3"/>
<line x1="414.5" y1="535.1" x2="414.5" y2="575.6" stroke="#c8102e" stroke-width="1.3"/>
<line x1="410.0" y1="575.6" x2="419.0" y2="575.6" stroke="#c8102e" stroke-width="1.3"/>
<rect x="406.4" y="504.6" width="16.2" height="30.5" fill="none" stroke="#c8102e" stroke-width="1.3"/>
<line x1="406.4" y1="525.5" x2="422.6" y2="525.5" stroke="#c8102e" stroke-width="1.3"/>
<circle cx="409.90" cy="498.50" r="2.1" fill="#c8102e"/>
<circle cx="419.00" cy="497.30" r="2.1" fill="#c8102e"/>
<circle cx="414.50" cy="508.10" r="2.1" fill="#c8102e"/>
<circle cx="414.50" cy="516.80" r="2.1" fill="#c8102e"/>
<circle cx="409.90" cy="526.00" r="2.1" fill="#c8102e"/>
<circle cx="419.00" cy="525.50" r="2.1" fill="#c8102e"/>
<circle cx="409.90" cy="535.60" r="2.1" fill="#c8102e"/>
<circle cx="419.00" cy="535.60" r="2.1" fill="#c8102e"/>
<circle cx="414.50" cy="562.10" r="2.1" fill="#c8102e"/>
<circle cx="414.50" cy="575.60" r="2.1" fill="#c8102e"/>
<line x1="433.7" y1="432.1" x2="433.7" y2="479.5" stroke="#235b95" stroke-width="1.3"/>
<line x1="429.2" y1="432.1" x2="438.2" y2="432.1" stroke="#235b95" stroke-width="1.3"/>
<line x1="433.7" y1="496.2" x2="433.7" y2="508.8" stroke="#235b95" stroke-width="1.3"/>
<line x1="429.2" y1="508.8" x2="438.2" y2="508.8" stroke="#235b95" stroke-width="1.3"/>
<rect x="425.6" y="479.5" width="16.2" height="16.7" fill="none" stroke="#235b95" stroke-width="1.3"/>
<line x1="425.59999999999997" y1="481.8" x2="441.8" y2="481.8" stroke="#235b95" stroke-width="1.3"/>
<rect x="431.65" y="430.25" width="3.7" height="3.7" fill="#0d4984"/>
<rect x="431.65" y="436.65" width="3.7" height="3.7" fill="#0d4984"/>
<rect x="426.15" y="477.65" width="3.7" height="3.7" fill="#0d4984"/>
<rect x="431.65" y="477.65" width="3.7" height="3.7" fill="#0d4984"/>
<rect x="437.15" y="478.15" width="3.7" height="3.7" fill="#0d4984"/>
<rect x="426.65" y="480.65" width="3.7" height="3.7" fill="#0d4984"/>
<rect x="434.15" y="480.65" width="3.7" height="3.7" fill="#0d4984"/>
<rect x="431.65" y="483.35" width="3.7" height="3.7" fill="#0d4984"/>
<rect x="434.35" y="492.05" width="3.7" height="3.7" fill="#0d4984"/>
<rect x="428.65" y="495.45" width="3.7" height="3.7" fill="#0d4984"/>
<rect x="428.15" y="506.95" width="3.7" height="3.7" fill="#0d4984"/>
<rect x="435.15" y="506.95" width="3.7" height="3.7" fill="#0d4984"/>
<line x1="460.2" y1="480.1" x2="460.2" y2="488.8" stroke="#c8102e" stroke-width="1.3"/>
<line x1="455.7" y1="480.1" x2="464.7" y2="480.1" stroke="#c8102e" stroke-width="1.3"/>
<line x1="460.2" y1="553" x2="460.2" y2="575.9" stroke="#c8102e" stroke-width="1.3"/>
<line x1="455.7" y1="575.9" x2="464.7" y2="575.9" stroke="#c8102e" stroke-width="1.3"/>
<rect x="452.1" y="488.8" width="16.2" height="64.2" fill="none" stroke="#c8102e" stroke-width="1.3"/>
<line x1="452.09999999999997" y1="500.1" x2="468.3" y2="500.1" stroke="#c8102e" stroke-width="1.3"/>
<circle cx="460.20" cy="480.10" r="2.1" fill="#c8102e"/>
<circle cx="453.50" cy="488.00" r="2.1" fill="#c8102e"/>
<circle cx="460.20" cy="488.00" r="2.1" fill="#c8102e"/>
<circle cx="467.00" cy="488.00" r="2.1" fill="#c8102e"/>
<circle cx="460.20" cy="492.30" r="2.1" fill="#c8102e"/>
<circle cx="456.00" cy="503.70" r="2.1" fill="#c8102e"/>
<circle cx="464.00" cy="500.30" r="2.1" fill="#c8102e"/>
<circle cx="460.20" cy="515.60" r="2.1" fill="#c8102e"/>
<circle cx="460.20" cy="554.10" r="2.1" fill="#c8102e"/>
<circle cx="460.20" cy="563.30" r="2.1" fill="#c8102e"/>
<circle cx="460.20" cy="575.90" r="2.1" fill="#c8102e"/>
<line x1="479.2" y1="420.2" x2="479.2" y2="456.6" stroke="#235b95" stroke-width="1.3"/>
<line x1="474.7" y1="420.2" x2="483.7" y2="420.2" stroke="#235b95" stroke-width="1.3"/>
<line x1="479.2" y1="501.2" x2="479.2" y2="522" stroke="#235b95" stroke-width="1.3"/>
<line x1="474.7" y1="522" x2="483.7" y2="522" stroke="#235b95" stroke-width="1.3"/>
<rect x="471.1" y="456.6" width="16.2" height="44.6" fill="none" stroke="#235b95" stroke-width="1.3"/>
<line x1="471.09999999999997" y1="490.9" x2="487.3" y2="490.9" stroke="#235b95" stroke-width="1.3"/>
<rect x="477.55" y="418.35" width="3.7" height="3.7" fill="#0d4984"/>
<rect x="477.55" y="432.05" width="3.7" height="3.7" fill="#0d4984"/>
<rect x="477.55" y="453.55" width="3.7" height="3.7" fill="#0d4984"/>
<rect x="477.55" y="471.45" width="3.7" height="3.7" fill="#0d4984"/>
<rect x="477.55" y="483.35" width="3.7" height="3.7" fill="#0d4984"/>
<rect x="472.95" y="489.05" width="3.7" height="3.7" fill="#0d4984"/>
<rect x="481.15" y="490.45" width="3.7" height="3.7" fill="#0d4984"/>
<rect x="481.15" y="496.65" width="3.7" height="3.7" fill="#0d4984"/>
<rect x="481.15" y="502.35" width="3.7" height="3.7" fill="#0d4984"/>
<rect x="472.95" y="500.55" width="3.7" height="3.7" fill="#0d4984"/>
<rect x="477.55" y="520.15" width="3.7" height="3.7" fill="#0d4984"/>
<text x="360.7" y="411.2" font-size="9.7" text-anchor="start" fill="#231f20" textLength="30.7" lengthAdjust="spacingAndGlyphs">P&lt;0.05</text>
<line x1="360.7" y1="414.5" x2="390.3" y2="414.5" stroke="#1a1a1a" stroke-width="1.25"/>
<text x="408.4" y="423.8" font-size="9.7" text-anchor="start" fill="#231f20" textLength="30.8" lengthAdjust="spacingAndGlyphs">P&lt;0.05</text>
<line x1="408.4" y1="427.1" x2="436.9" y2="427.1" stroke="#1a1a1a" stroke-width="1.25"/>
<text x="455.3" y="411.2" font-size="9.7" text-anchor="start" fill="#231f20" textLength="30.2" lengthAdjust="spacingAndGlyphs">P&lt;0.05</text>
<line x1="455.3" y1="414.5" x2="484.7" y2="414.5" stroke="#1a1a1a" stroke-width="1.25"/>
<rect x="451.4" y="372.2" width="49.2" height="4" rx="2" fill="#c8c8c8" stroke="#9a9a9a" stroke-width="0.5"/>
<ellipse cx="456.8" cy="374.2" rx="2.6" ry="15.5" fill="url(#dg)" stroke="#78a8e0" stroke-width="0.5"/>
<ellipse cx="465.6" cy="374.2" rx="2.6" ry="15.5" fill="url(#dg)" stroke="#78a8e0" stroke-width="0.5"/>
<ellipse cx="474.6" cy="374.2" rx="2.6" ry="15.5" fill="url(#dg)" stroke="#78a8e0" stroke-width="0.5"/>
<ellipse cx="485.1" cy="374.2" rx="2.6" ry="15.5" fill="url(#dg)" stroke="#78a8e0" stroke-width="0.5"/>
<ellipse cx="494.2" cy="374.2" rx="2.6" ry="15.5" fill="url(#dg)" stroke="#78a8e0" stroke-width="0.5"/>
<path d="M479.6,378 C479,381 481,383 479.5,386.5" stroke="#c97070" stroke-width="0.5" fill="none"/>
<path d="M479.5,367.5 C481.5,368 482,372 481.5,376 C481,378.5 479,379.5 478,378 C477,375 477.5,369 479.5,367.5 Z" fill="#2e2a28"/>
<text x="22.2" y="626.9" font-size="16.5" text-anchor="start" fill="#111" font-weight="bold">F</text>
<line x1="53.6" y1="647.9" x2="53.6" y2="846.4" stroke="#1a1a1a" stroke-width="1.5"/>
<line x1="49.1" y1="648.5" x2="53.6" y2="648.5" stroke="#1a1a1a" stroke-width="1.3"/>
<text x="46.1" y="652.0" font-size="10.3" text-anchor="end" fill="#2a2a2a">400</text>
<line x1="49.1" y1="697.9499999999999" x2="53.6" y2="697.9499999999999" stroke="#1a1a1a" stroke-width="1.3"/>
<text x="46.1" y="701.4499999999999" font-size="10.3" text-anchor="end" fill="#2a2a2a">300</text>
<line x1="49.1" y1="747.4" x2="53.6" y2="747.4" stroke="#1a1a1a" stroke-width="1.3"/>
<text x="46.1" y="750.9" font-size="10.3" text-anchor="end" fill="#2a2a2a">200</text>
<line x1="49.1" y1="796.8499999999999" x2="53.6" y2="796.8499999999999" stroke="#1a1a1a" stroke-width="1.3"/>
<text x="46.1" y="800.3499999999999" font-size="10.3" text-anchor="end" fill="#2a2a2a">100</text>
<line x1="49.1" y1="846.3" x2="53.6" y2="846.3" stroke="#1a1a1a" stroke-width="1.3"/>
<text x="46.1" y="849.8" font-size="10.3" text-anchor="end" fill="#2a2a2a">0</text>
<line x1="52.9" y1="845.8" x2="242.8" y2="845.8" stroke="#231f20" stroke-width="1.4"/>
<text x="81.2" y="859.2" font-size="9.8" text-anchor="middle" fill="#231f20" textLength="34.0" lengthAdjust="spacingAndGlyphs">Week-1</text>
<text x="137.8" y="859.2" font-size="9.8" text-anchor="middle" fill="#231f20" textLength="34.0" lengthAdjust="spacingAndGlyphs">Week-2</text>
<text x="180.5" y="859.2" font-size="9.8" text-anchor="middle" fill="#231f20" textLength="34.0" lengthAdjust="spacingAndGlyphs">Week-3</text>
<text x="226.0" y="859.2" font-size="9.8" text-anchor="middle" fill="#231f20" textLength="34.0" lengthAdjust="spacingAndGlyphs">Week-4</text>
<text transform="translate(24.9,747.1) rotate(-90)" x="0" y="0" font-size="14" text-anchor="middle" fill="#231f20" textLength="74.5" lengthAdjust="spacingAndGlyphs">Time (seconds)</text>
<circle cx="74.50" cy="629.50" r="2.0" fill="#c8102e"/>
<rect x="72.60" y="639.80" width="3.8" height="3.8" fill="#0d4984"/>
<text x="80.4" y="633.6" font-size="11" text-anchor="start" fill="#231f20" textLength="35.6" lengthAdjust="spacingAndGlyphs">Vehicle</text>
<text x="80.4" y="645.8" font-size="11" text-anchor="start" fill="#231f20" textLength="33.5" lengthAdjust="spacingAndGlyphs">ML265</text>
<line x1="70.8" y1="697.5" x2="70.8" y2="772.8" stroke="#c8102e" stroke-width="1.3"/>
<line x1="66.3" y1="697.5" x2="75.3" y2="697.5" stroke="#c8102e" stroke-width="1.3"/>
<rect x="62.7" y="772.8" width="16.2" height="67.6" fill="none" stroke="#c8102e" stroke-width="1.3"/>
<line x1="62.699999999999996" y1="814" x2="78.89999999999999" y2="814" stroke="#c8102e" stroke-width="1.3"/>
<circle cx="68.10" cy="697.50" r="2.1" fill="#c8102e"/>
<circle cx="73.70" cy="697.50" r="2.1" fill="#c8102e"/>
<circle cx="70.80" cy="772.80" r="2.1" fill="#c8102e"/>
<circle cx="70.80" cy="793.00" r="2.1" fill="#c8102e"/>
<circle cx="70.80" cy="806.80" r="2.1" fill="#c8102e"/>
<circle cx="70.80" cy="814.00" r="2.1" fill="#c8102e"/>
<circle cx="63.50" cy="840.00" r="2.1" fill="#c8102e"/>
<circle cx="67.00" cy="836.50" r="2.1" fill="#c8102e"/>
<circle cx="70.80" cy="840.00" r="2.1" fill="#c8102e"/>
<circle cx="74.50" cy="836.50" r="2.1" fill="#c8102e"/>
<circle cx="78.00" cy="840.00" r="2.1" fill="#c8102e"/>
<line x1="90.4" y1="811.5" x2="90.4" y2="826.8" stroke="#235b95" stroke-width="1.3"/>
<line x1="85.9" y1="826.8" x2="94.9" y2="826.8" stroke="#235b95" stroke-width="1.3"/>
<rect x="82.3" y="697.5" width="16.2" height="114.0" fill="none" stroke="#235b95" stroke-width="1.3"/>
<line x1="82.30000000000001" y1="762.5" x2="98.5" y2="762.5" stroke="#235b95" stroke-width="1.3"/>
<rect x="82.15" y="695.65" width="3.7" height="3.7" fill="#0d4984"/>
<rect x="85.15" y="695.65" width="3.7" height="3.7" fill="#0d4984"/>
<rect x="88.35" y="695.65" width="3.7" height="3.7" fill="#0d4984"/>
<rect x="91.55" y="695.65" width="3.7" height="3.7" fill="#0d4984"/>
<rect x="94.65" y="695.65" width="3.7" height="3.7" fill="#0d4984"/>
<rect x="88.35" y="760.65" width="3.7" height="3.7" fill="#0d4984"/>
<rect x="88.35" y="787.05" width="3.7" height="3.7" fill="#0d4984"/>
<rect x="88.35" y="795.65" width="3.7" height="3.7" fill="#0d4984"/>
<rect x="88.35" y="811.15" width="3.7" height="3.7" fill="#0d4984"/>
<rect x="85.15" y="824.95" width="3.7" height="3.7" fill="#0d4984"/>
<rect x="91.55" y="824.95" width="3.7" height="3.7" fill="#0d4984"/>
<line x1="115.9" y1="791.7" x2="115.9" y2="804.8" stroke="#c8102e" stroke-width="1.3"/>
<line x1="111.4" y1="791.7" x2="120.4" y2="791.7" stroke="#c8102e" stroke-width="1.3"/>
<line x1="115.9" y1="826.1" x2="115.9" y2="828.7" stroke="#c8102e" stroke-width="1.3"/>
<line x1="111.4" y1="828.7" x2="120.4" y2="828.7" stroke="#c8102e" stroke-width="1.3"/>
<rect x="107.8" y="804.8" width="16.2" height="21.3" fill="none" stroke="#c8102e" stroke-width="1.3"/>
<line x1="107.80000000000001" y1="813.9" x2="124.0" y2="813.9" stroke="#c8102e" stroke-width="1.3"/>
<circle cx="115.90" cy="791.70" r="2.1" fill="#c8102e"/>
<circle cx="109.80" cy="810.20" r="2.1" fill="#c8102e"/>
<circle cx="115.90" cy="809.10" r="2.1" fill="#c8102e"/>
<circle cx="122.20" cy="812.40" r="2.1" fill="#c8102e"/>
<circle cx="109.80" cy="814.60" r="2.1" fill="#c8102e"/>
<circle cx="115.90" cy="813.50" r="2.1" fill="#c8102e"/>
<circle cx="122.20" cy="814.60" r="2.1" fill="#c8102e"/>
<circle cx="109.80" cy="820.00" r="2.1" fill="#c8102e"/>
<circle cx="115.90" cy="820.00" r="2.1" fill="#c8102e"/>
<circle cx="122.20" cy="820.00" r="2.1" fill="#c8102e"/>
<circle cx="109.80" cy="828.70" r="2.1" fill="#c8102e"/>
<circle cx="115.90" cy="826.50" r="2.1" fill="#c8102e"/>
<line x1="135.3" y1="697.6" x2="135.3" y2="715.2" stroke="#235b95" stroke-width="1.3"/>
<line x1="130.8" y1="697.6" x2="139.8" y2="697.6" stroke="#235b95" stroke-width="1.3"/>
<line x1="135.3" y1="796.5" x2="135.3" y2="818.5" stroke="#235b95" stroke-width="1.3"/>
<line x1="130.8" y1="818.5" x2="139.8" y2="818.5" stroke="#235b95" stroke-width="1.3"/>
<rect x="127.2" y="715.2" width="16.2" height="81.3" fill="none" stroke="#235b95" stroke-width="1.3"/>
<line x1="127.20000000000002" y1="731.3" x2="143.4" y2="731.3" stroke="#235b95" stroke-width="1.3"/>
<rect x="129.65" y="695.75" width="3.7" height="3.7" fill="#0d4984"/>
<rect x="137.75" y="695.75" width="3.7" height="3.7" fill="#0d4984"/>
<rect x="133.35" y="711.65" width="3.7" height="3.7" fill="#0d4984"/>
<rect x="133.35" y="717.75" width="3.7" height="3.7" fill="#0d4984"/>
<rect x="129.05" y="725.15" width="3.7" height="3.7" fill="#0d4984"/>
<rect x="137.25" y="729.65" width="3.7" height="3.7" fill="#0d4984"/>
<rect x="133.35" y="738.85" width="3.7" height="3.7" fill="#0d4984"/>
<rect x="133.35" y="785.15" width="3.7" height="3.7" fill="#0d4984"/>
<rect x="133.35" y="795.95" width="3.7" height="3.7" fill="#0d4984"/>
<rect x="133.35" y="805.55" width="3.7" height="3.7" fill="#0d4984"/>
<rect x="133.35" y="816.65" width="3.7" height="3.7" fill="#0d4984"/>
<line x1="161.2" y1="791.7" x2="161.2" y2="813" stroke="#c8102e" stroke-width="1.3"/>
<line x1="156.7" y1="791.7" x2="165.7" y2="791.7" stroke="#c8102e" stroke-width="1.3"/>
<line x1="161.2" y1="834.1" x2="161.2" y2="843.5" stroke="#c8102e" stroke-width="1.3"/>
<line x1="156.7" y1="843.5" x2="165.7" y2="843.5" stroke="#c8102e" stroke-width="1.3"/>
<rect x="153.1" y="813.0" width="16.2" height="21.1" fill="none" stroke="#c8102e" stroke-width="1.3"/>
<line x1="153.1" y1="822.8" x2="169.29999999999998" y2="822.8" stroke="#c8102e" stroke-width="1.3"/>
<circle cx="161.30" cy="791.70" r="2.1" fill="#c8102e"/>
<circle cx="161.30" cy="801.50" r="2.1" fill="#c8102e"/>
<circle cx="161.30" cy="807.40" r="2.1" fill="#c8102e"/>
<circle cx="154.00" cy="813.00" r="2.1" fill="#c8102e"/>
<circle cx="168.00" cy="812.40" r="2.1" fill="#c8102e"/>
<circle cx="161.30" cy="817.80" r="2.1" fill="#c8102e"/>
<circle cx="154.00" cy="822.50" r="2.1" fill="#c8102e"/>
<circle cx="168.00" cy="822.80" r="2.1" fill="#c8102e"/>
<circle cx="161.30" cy="829.00" r="2.1" fill="#c8102e"/>
<circle cx="154.00" cy="833.50" r="2.1" fill="#c8102e"/>
<circle cx="168.00" cy="835.50" r="2.1" fill="#c8102e"/>
<circle cx="161.30" cy="839.00" r="2.1" fill="#c8102e"/>
<circle cx="161.30" cy="843.50" r="2.1" fill="#c8102e"/>
<line x1="180.4" y1="697.6" x2="180.4" y2="715.2" stroke="#235b95" stroke-width="1.3"/>
<line x1="175.9" y1="697.6" x2="184.9" y2="697.6" stroke="#235b95" stroke-width="1.3"/>
<line x1="180.4" y1="785.9" x2="180.4" y2="821.5" stroke="#235b95" stroke-width="1.3"/>
<line x1="175.9" y1="821.5" x2="184.9" y2="821.5" stroke="#235b95" stroke-width="1.3"/>
<rect x="172.3" y="715.2" width="16.2" height="70.7" fill="none" stroke="#235b95" stroke-width="1.3"/>
<line x1="172.3" y1="763" x2="188.5" y2="763" stroke="#235b95" stroke-width="1.3"/>
<rect x="174.25" y="695.75" width="3.7" height="3.7" fill="#0d4984"/>
<rect x="182.45" y="695.75" width="3.7" height="3.7" fill="#0d4984"/>
<rect x="178.15" y="713.15" width="3.7" height="3.7" fill="#0d4984"/>
<rect x="178.15" y="727.95" width="3.7" height="3.7" fill="#0d4984"/>
<rect x="178.15" y="751.85" width="3.7" height="3.7" fill="#0d4984"/>
<rect x="178.15" y="761.15" width="3.7" height="3.7" fill="#0d4984"/>
<rect x="174.25" y="774.65" width="3.7" height="3.7" fill="#0d4984"/>
<rect x="182.45" y="775.75" width="3.7" height="3.7" fill="#0d4984"/>
<rect x="178.15" y="784.45" width="3.7" height="3.7" fill="#0d4984"/>
<rect x="174.25" y="819.65" width="3.7" height="3.7" fill="#0d4984"/>
<rect x="182.45" y="818.65" width="3.7" height="3.7" fill="#0d4984"/>
<line x1="172.8" y1="802.6" x2="188.0" y2="802.6" stroke="#235b95" stroke-width="1.3"/>
<line x1="206.4" y1="793.9" x2="206.4" y2="807.4" stroke="#c8102e" stroke-width="1.3"/>
<line x1="201.9" y1="793.9" x2="210.9" y2="793.9" stroke="#c8102e" stroke-width="1.3"/>
<line x1="206.4" y1="833" x2="206.4" y2="841.3" stroke="#c8102e" stroke-width="1.3"/>
<line x1="201.9" y1="841.3" x2="210.9" y2="841.3" stroke="#c8102e" stroke-width="1.3"/>
<rect x="198.3" y="807.4" width="16.2" height="25.6" fill="none" stroke="#c8102e" stroke-width="1.3"/>
<line x1="198.3" y1="820" x2="214.5" y2="820" stroke="#c8102e" stroke-width="1.3"/>
<circle cx="206.30" cy="793.90" r="2.1" fill="#c8102e"/>
<circle cx="206.30" cy="800.00" r="2.1" fill="#c8102e"/>
<circle cx="201.00" cy="807.50" r="2.1" fill="#c8102e"/>
<circle cx="211.50" cy="807.50" r="2.1" fill="#c8102e"/>
<circle cx="206.30" cy="814.50" r="2.1" fill="#c8102e"/>
<circle cx="201.00" cy="820.50" r="2.1" fill="#c8102e"/>
<circle cx="211.50" cy="819.50" r="2.1" fill="#c8102e"/>
<circle cx="201.00" cy="832.00" r="2.1" fill="#c8102e"/>
<circle cx="211.50" cy="830.00" r="2.1" fill="#c8102e"/>
<circle cx="206.30" cy="836.00" r="2.1" fill="#c8102e"/>
<circle cx="203.00" cy="841.30" r="2.1" fill="#c8102e"/>
<circle cx="209.50" cy="840.50" r="2.1" fill="#c8102e"/>
<line x1="225.9" y1="811.3" x2="225.9" y2="818.9" stroke="#235b95" stroke-width="1.3"/>
<line x1="221.4" y1="818.9" x2="230.4" y2="818.9" stroke="#235b95" stroke-width="1.3"/>
<rect x="217.8" y="697.2" width="16.2" height="114.1" fill="none" stroke="#235b95" stroke-width="1.3"/>
<line x1="217.8" y1="756.5" x2="234.0" y2="756.5" stroke="#235b95" stroke-width="1.3"/>
<rect x="217.05" y="695.35" width="3.7" height="3.7" fill="#0d4984"/>
<rect x="224.05" y="695.35" width="3.7" height="3.7" fill="#0d4984"/>
<rect x="230.55" y="695.35" width="3.7" height="3.7" fill="#0d4984"/>
<rect x="217.05" y="737.25" width="3.7" height="3.7" fill="#0d4984"/>
<rect x="224.05" y="739.45" width="3.7" height="3.7" fill="#0d4984"/>
<rect x="217.05" y="754.05" width="3.7" height="3.7" fill="#0d4984"/>
<rect x="224.05" y="758.35" width="3.7" height="3.7" fill="#0d4984"/>
<rect x="224.05" y="774.25" width="3.7" height="3.7" fill="#0d4984"/>
<rect x="224.05" y="810.55" width="3.7" height="3.7" fill="#0d4984"/>
<rect x="230.55" y="813.35" width="3.7" height="3.7" fill="#0d4984"/>
<rect x="217.05" y="817.75" width="3.7" height="3.7" fill="#0d4984"/>
<text x="110.10000000000001" y="689.3000000000001" font-size="9.7" text-anchor="start" fill="#231f20" textLength="31.0" lengthAdjust="spacingAndGlyphs">P&lt;0.05</text>
<line x1="110.10000000000001" y1="692.0" x2="139.8" y2="692.0" stroke="#1a1a1a" stroke-width="1.25"/>
<text x="156.89999999999998" y="689.3000000000001" font-size="9.7" text-anchor="start" fill="#231f20" textLength="30.7" lengthAdjust="spacingAndGlyphs">P&lt;0.05</text>
<line x1="156.89999999999998" y1="692.0" x2="186.5" y2="692.0" stroke="#1a1a1a" stroke-width="1.25"/>
<text x="202.7" y="684.3000000000001" font-size="9.7" text-anchor="start" fill="#231f20" textLength="30.5" lengthAdjust="spacingAndGlyphs">P&lt;0.05</text>
<line x1="202.7" y1="687.3" x2="232.4" y2="687.3" stroke="#1a1a1a" stroke-width="1.25"/>
<g>
<polygon points="190.8,637.7 266,637.7 252.5,649.7 196.5,649.7" fill="#ececec"/>
<line x1="190.8" y1="637.7" x2="193.5" y2="649.7" stroke="#b5b5b5" stroke-width="0.5"/><line x1="198.3" y1="637.7" x2="199.1" y2="649.7" stroke="#b5b5b5" stroke-width="0.5"/><line x1="205.8" y1="637.7" x2="204.7" y2="649.7" stroke="#b5b5b5" stroke-width="0.5"/><line x1="213.4" y1="637.7" x2="210.3" y2="649.7" stroke="#b5b5b5" stroke-width="0.5"/><line x1="220.9" y1="637.7" x2="215.9" y2="649.7" stroke="#b5b5b5" stroke-width="0.5"/><line x1="228.4" y1="637.7" x2="221.5" y2="649.7" stroke="#b5b5b5" stroke-width="0.5"/><line x1="235.9" y1="637.7" x2="227.1" y2="649.7" stroke="#b5b5b5" stroke-width="0.5"/><line x1="243.4" y1="637.7" x2="232.7" y2="649.7" stroke="#b5b5b5" stroke-width="0.5"/><line x1="251.0" y1="637.7" x2="238.3" y2="649.7" stroke="#b5b5b5" stroke-width="0.5"/><line x1="258.5" y1="637.7" x2="243.9" y2="649.7" stroke="#b5b5b5" stroke-width="0.5"/><line x1="266.0" y1="637.7" x2="249.5" y2="649.7" stroke="#b5b5b5" stroke-width="0.5"/><line x1="190.8" y1="637.7" x2="266.0" y2="637.7" stroke="#b5b5b5" stroke-width="0.5"/><line x1="192.7" y1="641.7" x2="261.5" y2="641.7" stroke="#b5b5b5" stroke-width="0.5"/><line x1="194.6" y1="645.7" x2="257.0" y2="645.7" stroke="#b5b5b5" stroke-width="0.5"/><line x1="196.5" y1="649.7" x2="252.5" y2="649.7" stroke="#b5b5b5" stroke-width="0.5"/>
<path d="M200,644.3 C208,644 216,644.5 223,645.2" stroke="#d08a8a" stroke-width="0.7" fill="none"/>
<path d="M221,643.5 C221,640.8 226,640.2 232,640.4 C240,640.6 247,641.4 248.6,644 C249.2,646.5 246.5,648.6 243,649.6 C238,652.2 231,652.6 226,651.2 C222.5,649.8 221,646.5 221,643.5 Z" fill="#3b3433"/>
<ellipse cx="226.5" cy="639.8" rx="1.6" ry="1.1" fill="#3b3433"/><ellipse cx="240.5" cy="640.2" rx="1.6" ry="1.1" fill="#3b3433"/>
<circle cx="243.2" cy="647" r="0.9" fill="#d88"/>
</g>
<text x="275.8" y="632.7" font-size="16.5" text-anchor="start" fill="#111" font-weight="bold">G</text>
<line x1="302.6" y1="629.6" x2="302.6" y2="836.9" stroke="#1a1a1a" stroke-width="1.5"/>
<line x1="298.1" y1="649.3" x2="302.6" y2="649.3" stroke="#1a1a1a" stroke-width="1.3"/>
<text x="294.2" y="652.8" font-size="10.3" text-anchor="end" fill="#2a2a2a">100</text>
<line x1="298.1" y1="686.6999999999999" x2="302.6" y2="686.6999999999999" stroke="#1a1a1a" stroke-width="1.3"/>
<text x="294.2" y="690.1999999999999" font-size="10.3" text-anchor="end" fill="#2a2a2a">80</text>
<line x1="298.1" y1="724.0999999999999" x2="302.6" y2="724.0999999999999" stroke="#1a1a1a" stroke-width="1.3"/>
<text x="294.2" y="727.5999999999999" font-size="10.3" text-anchor="end" fill="#2a2a2a">60</text>
<line x1="298.1" y1="761.5" x2="302.6" y2="761.5" stroke="#1a1a1a" stroke-width="1.3"/>
<text x="294.2" y="765.0" font-size="10.3" text-anchor="end" fill="#2a2a2a">40</text>
<line x1="298.1" y1="798.9" x2="302.6" y2="798.9" stroke="#1a1a1a" stroke-width="1.3"/>
<text x="294.2" y="802.4" font-size="10.3" text-anchor="end" fill="#2a2a2a">20</text>
<line x1="298.1" y1="836.3" x2="302.6" y2="836.3" stroke="#1a1a1a" stroke-width="1.3"/>
<text x="294.2" y="839.8" font-size="10.3" text-anchor="end" fill="#2a2a2a">0</text>
<line x1="301.9" y1="836.3" x2="510.8" y2="836.3" stroke="#231f20" stroke-width="1.4"/>
<text x="302.5" y="852.6" font-size="10.3" text-anchor="middle" fill="#2a2a2a">0</text>
<line x1="351.78" y1="836.3" x2="351.78" y2="840.3" stroke="#231f20" stroke-width="1.2"/>
<text x="351.78" y="852.6" font-size="10.3" text-anchor="middle" fill="#2a2a2a">7</text>
<line x1="401.06" y1="836.3" x2="401.06" y2="840.3" stroke="#231f20" stroke-width="1.2"/>
<text x="401.06" y="852.6" font-size="10.3" text-anchor="middle" fill="#2a2a2a">14</text>
<line x1="450.34000000000003" y1="836.3" x2="450.34000000000003" y2="840.3" stroke="#231f20" stroke-width="1.2"/>
<text x="450.34000000000003" y="852.6" font-size="10.3" text-anchor="middle" fill="#2a2a2a">21</text>
<line x1="499.62" y1="836.3" x2="499.62" y2="840.3" stroke="#231f20" stroke-width="1.2"/>
<text x="499.62" y="852.6" font-size="10.3" text-anchor="middle" fill="#2a2a2a">28</text>
<text x="406.5" y="864.6" font-size="10" text-anchor="middle" fill="#231f20" textLength="20.5" lengthAdjust="spacingAndGlyphs">Days</text>
<text transform="translate(275.6,729.7) rotate(-90)" x="0" y="0" font-size="14.2" text-anchor="middle" fill="#231f20" textLength="58.8" lengthAdjust="spacingAndGlyphs">Survival (%)</text>
<path d="M302.5,649.3 H309.4 V673.8 H323.6 V711.2 H499.5" fill="none" stroke="#1f5690" stroke-width="1.9"/>
<path d="M302.5,649.3 H309.4 V677.9 H323.6 V706.9 H499.5" fill="none" stroke="#c8102e" stroke-width="1.9" stroke-dasharray="4.5 2.5"/>
<line x1="323.8" y1="628.2" x2="340.8" y2="628.2" stroke="#c8102e" stroke-width="1.9" stroke-dasharray="4 2.5"/>
<line x1="323.8" y1="641.5" x2="340.8" y2="641.5" stroke="#1f5690" stroke-width="1.9"/>
<text x="345.4" y="632.4" font-size="11" text-anchor="start" fill="#231f20" textLength="35.6" lengthAdjust="spacingAndGlyphs">Vehicle</text>
<text x="345.4" y="645.5" font-size="11" text-anchor="start" fill="#231f20" textLength="33.5" lengthAdjust="spacingAndGlyphs">ML265</text>
<text x="315.8" y="729.5" font-size="10" text-anchor="start" fill="#231f20" textLength="59.2" lengthAdjust="spacingAndGlyphs">P value: 0.914</text>
<rect x="1" y="1" width="518" height="872" fill="none" stroke="#111" stroke-width="2"/>
</svg></body></html>
